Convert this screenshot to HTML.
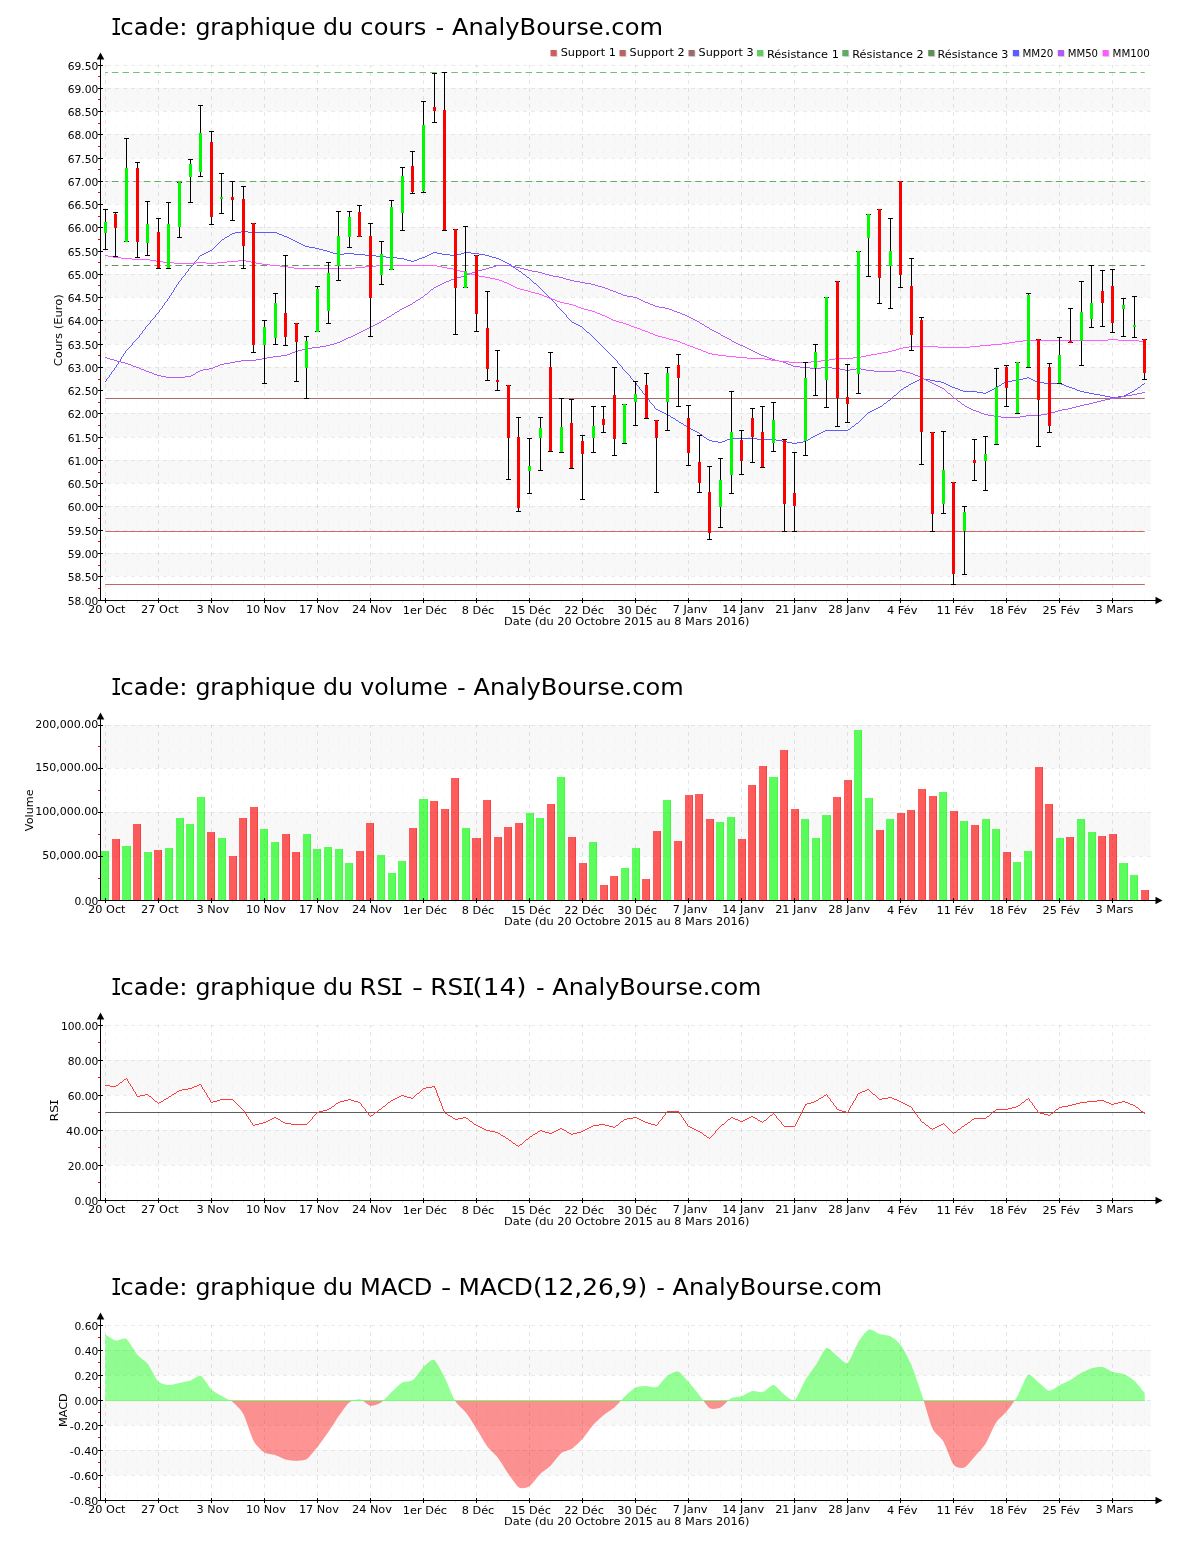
<!DOCTYPE html>
<html lang="fr"><head><meta charset="utf-8"><title>Icade: graphique du cours, du volume, du RSI - RSI(14) et du MACD - MACD(12,26,9) - AnalyBourse.com</title>
<style>html,body{margin:0;padding:0;background:#fff}svg{display:block}</style></head>
<body>
<svg width="1200" height="1550" viewBox="0 0 1200 1550" font-family="DejaVu Sans, Liberation Sans, sans-serif" fill="#000">
<rect width="1200" height="1550" fill="#fff"/>
<rect x="101" y="553" width="1049.7" height="23" fill="#f8f8f8"/>
<rect x="101" y="506" width="1049.7" height="24" fill="#f8f8f8"/>
<rect x="101" y="460" width="1049.7" height="23" fill="#f8f8f8"/>
<rect x="101" y="413" width="1049.7" height="24" fill="#f8f8f8"/>
<rect x="101" y="367" width="1049.7" height="23" fill="#f8f8f8"/>
<rect x="101" y="320" width="1049.7" height="24" fill="#f8f8f8"/>
<rect x="101" y="274" width="1049.7" height="23" fill="#f8f8f8"/>
<rect x="101" y="227" width="1049.7" height="24" fill="#f8f8f8"/>
<rect x="101" y="181" width="1049.7" height="23" fill="#f8f8f8"/>
<rect x="101" y="134" width="1049.7" height="24" fill="#f8f8f8"/>
<rect x="101" y="88" width="1049.7" height="23" fill="#f8f8f8"/>
<path d="M115.5 65V600 M126.5 65V600 M137.5 65V600 M147.5 65V600 M168.5 65V600 M179.5 65V600 M190.5 65V600 M200.5 65V600 M221.5 65V600 M232.5 65V600 M243.5 65V600 M253.5 65V600 M275.5 65V600 M285.5 65V600 M296.5 65V600 M306.5 65V600 M328.5 65V600 M338.5 65V600 M349.5 65V600 M359.5 65V600 M381.5 65V600 M391.5 65V600 M402.5 65V600 M412.5 65V600 M434.5 65V600 M444.5 65V600 M455.5 65V600 M465.5 65V600 M487.5 65V600 M497.5 65V600 M508.5 65V600 M518.5 65V600 M540.5 65V600 M550.5 65V600 M561.5 65V600 M571.5 65V600 M593.5 65V600 M603.5 65V600 M614.5 65V600 M624.5 65V600 M646.5 65V600 M656.5 65V600 M667.5 65V600 M678.5 65V600 M699.5 65V600 M709.5 65V600 M720.5 65V600 M731.5 65V600 M752.5 65V600 M762.5 65V600 M773.5 65V600 M784.5 65V600 M805.5 65V600 M815.5 65V600 M826.5 65V600 M837.5 65V600 M858.5 65V600 M868.5 65V600 M879.5 65V600 M890.5 65V600 M911.5 65V600 M921.5 65V600 M932.5 65V600 M943.5 65V600 M964.5 65V600 M974.5 65V600 M985.5 65V600 M996.5 65V600 M1017.5 65V600 M1028.5 65V600 M1038.5 65V600 M1049.5 65V600 M1070.5 65V600 M1081.5 65V600 M1091.5 65V600 M1102.5 65V600 M1123.5 65V600 M1134.5 65V600 M1144.5 65V600" stroke="#000" stroke-opacity="0.02" stroke-width="1" stroke-dasharray="6 6" stroke-dashoffset="1" fill="none"/>
<path d="M105.5 65V600 M158.5 65V600 M211.5 65V600 M264.5 65V600 M317.5 65V600 M370.5 65V600 M423.5 65V600 M476.5 65V600 M529.5 65V600 M582.5 65V600 M635.5 65V600 M688.5 65V600 M741.5 65V600 M794.5 65V600 M847.5 65V600 M900.5 65V600 M953.5 65V600 M1006.5 65V600 M1059.5 65V600 M1112.5 65V600" stroke="#000" stroke-opacity="0.098" stroke-width="1" stroke-dasharray="4 4" stroke-dashoffset="1" fill="none"/>
<path d="M101 65.5H1150.7 M101 88.5H1150.7 M101 111.5H1150.7 M101 134.5H1150.7 M101 158.5H1150.7 M101 181.5H1150.7 M101 204.5H1150.7 M101 227.5H1150.7 M101 251.5H1150.7 M101 274.5H1150.7 M101 297.5H1150.7 M101 320.5H1150.7 M101 344.5H1150.7 M101 367.5H1150.7 M101 390.5H1150.7 M101 413.5H1150.7 M101 437.5H1150.7 M101 460.5H1150.7 M101 483.5H1150.7 M101 506.5H1150.7 M101 530.5H1150.7 M101 553.5H1150.7 M101 576.5H1150.7" stroke="#000" stroke-opacity="0.078" stroke-width="1" stroke-dasharray="4 4" stroke-dashoffset="2" fill="none"/>
<text y="34.8" font-size="22.6"><tspan font-family="DejaVu Sans Mono, Liberation Mono, monospace" x="110.85" textLength="11.15" lengthAdjust="spacingAndGlyphs">I</tspan><tspan x="120.36" textLength="67.14" lengthAdjust="spacingAndGlyphs">cade:</tspan> <tspan x="195.40" textLength="157.53" lengthAdjust="spacingAndGlyphs">graphique du</tspan> <tspan x="360.37" textLength="65.88" lengthAdjust="spacingAndGlyphs">cours</tspan> <tspan x="435.59" textLength="227.38" lengthAdjust="spacingAndGlyphs">- AnalyBourse.com</tspan></text>
<path d="M105.25 398.5H1144.75" stroke="#a66c6c" stroke-width="1" fill="none"/>
<path d="M105.25 531.5H1144.75" stroke="#d26868" stroke-width="1" fill="none"/>
<path d="M105.25 584.5H1144.75" stroke="#c46666" stroke-width="1" fill="none"/>
<path d="M105.25 72.5H1144.75" stroke="#6cc56c" stroke-width="1" fill="none" stroke-dasharray="6.6 4.007" stroke-dashoffset="4"/>
<path d="M105.25 181.5H1144.75" stroke="#62ae62" stroke-width="1" fill="none" stroke-dasharray="6.6 4.007" stroke-dashoffset="4"/>
<path d="M105.25 265.5H1144.75" stroke="#5e985e" stroke-width="1" fill="none" stroke-dasharray="6.6 4.007" stroke-dashoffset="4"/>
<path d="M200 255.5h2M202 254.5h2M204 253.5h2M206 252.5h2M208 251.5h2M210 250.5h2M222 239.5h2M225 237.5h2M227 236.5h2M230 234.5h2M232 233.5h3M235 232.5h6M241 231.5h7M248 232.5h29M277 233.5h2M279 234.5h3M282 235.5h2M284 236.5h3M287 237.5h2M289 238.5h2M291 239.5h2M293 240.5h2M295 241.5h2M297 242.5h2M299 243.5h2M301 244.5h2M303 245.5h2M305 246.5h4M309 247.5h6M315 248.5h4M319 249.5h4M323 250.5h4M327 251.5h3M330 252.5h3M333 253.5h4M337 254.5h7M344 253.5h10M354 254.5h11M365 255.5h11M376 256.5h10M386 257.5h11M397 258.5h7M404 259.5h3M407 260.5h4M411 261.5h3M414 260.5h3M417 259.5h2M419 258.5h3M422 257.5h3M425 256.5h2M427 255.5h2M429 254.5h2M431 253.5h2M433 252.5h4M437 253.5h5M442 254.5h8M450 255.5h7M457 254.5h4M461 253.5h3M464 252.5h7M471 253.5h8M479 254.5h6M485 255.5h4M489 256.5h3M492 257.5h4M496 258.5h3M499 259.5h2M501 260.5h2M503 261.5h2M505 262.5h2M507 263.5h2M509 264.5h2M513 267.5h2M516 269.5h2M519 271.5h2M523 274.5h2M527 277.5h2M534 283.5h2M572 322.5h2M574 323.5h2M576 324.5h2M578 325.5h2M580 326.5h2M587 332.5h2M656 409.5h2M658 410.5h2M660 411.5h2M662 412.5h2M664 413.5h2M666 414.5h2M668 415.5h2M671 417.5h2M673 418.5h2M676 420.5h2M679 422.5h2M681 423.5h2M684 425.5h2M686 426.5h2M689 428.5h2M691 429.5h2M693 430.5h2M695 431.5h2M697 432.5h2M700 434.5h2M704 437.5h2M707 439.5h2M709 440.5h3M712 441.5h6M718 442.5h4M722 441.5h3M725 440.5h2M727 439.5h3M730 438.5h27M757 439.5h19M776 440.5h6M782 441.5h5M787 442.5h5M792 443.5h5M797 442.5h6M803 441.5h3M806 440.5h2M808 439.5h2M811 437.5h2M813 436.5h2M815 435.5h2M817 434.5h2M819 433.5h2M821 432.5h2M823 431.5h2M825 430.5h23M848 429.5h2M852 426.5h2M856 423.5h2M868 412.5h2M870 411.5h2M872 410.5h2M874 409.5h2M876 408.5h2M878 407.5h2M880 406.5h2M884 403.5h2M888 400.5h2M894 395.5h2M901 389.5h2M904 387.5h2M906 386.5h2M909 384.5h2M911 383.5h2M913 382.5h2M915 381.5h2M917 380.5h2M919 379.5h2M921 378.5h3M924 379.5h6M930 380.5h5M935 381.5h6M941 382.5h3M944 383.5h2M946 384.5h2M948 385.5h2M950 386.5h2M952 387.5h3M955 388.5h3M958 389.5h2M960 390.5h3M963 391.5h14M977 392.5h6M983 393.5h3M986 392.5h2M988 391.5h2M990 390.5h2M992 389.5h2M994 388.5h2M997 386.5h2M999 385.5h2M1002 383.5h2M1004 382.5h2M1006 381.5h6M1012 380.5h7M1019 379.5h4M1023 378.5h4M1027 377.5h2M1029 378.5h2M1031 379.5h2M1033 380.5h2M1035 381.5h2M1037 382.5h7M1044 383.5h17M1061 384.5h3M1064 385.5h2M1066 386.5h3M1069 387.5h3M1072 388.5h3M1075 389.5h2M1077 390.5h3M1080 391.5h4M1084 392.5h5M1089 393.5h5M1094 394.5h6M1100 395.5h5M1105 396.5h5M1110 397.5h8M1118 396.5h6M1124 395.5h2M1126 394.5h2M1128 393.5h2M1130 392.5h2M1132 391.5h2M1135 389.5h2M1138 387.5h2M1142 384.5h2M105.5 381v1M106.5 379v2M107.5 378v1M108.5 377v1M109.5 375v2M110.5 374v1M111.5 372v2M112.5 371v1M113.5 370v1M114.5 368v2M115.5 367v1M116.5 365v2M117.5 364v1M118.5 362v2M119.5 361v1M120.5 359v2M121.5 357v2M122.5 356v1M123.5 354v2M124.5 353v1M125.5 351v2M126.5 350v1M127.5 349v1M128.5 348v1M129.5 347v1M130.5 346v1M131.5 345v1M132.5 343v2M133.5 342v1M134.5 341v1M135.5 340v1M136.5 339v1M137.5 338v1M138.5 337v1M139.5 335v2M140.5 334v1M141.5 333v1M142.5 331v2M143.5 330v1M144.5 329v1M145.5 327v2M146.5 326v1M147.5 325v1M148.5 324v1M149.5 323v1M150.5 321v2M151.5 320v1M152.5 319v1M153.5 318v1M154.5 317v1M155.5 315v2M156.5 314v1M157.5 313v1M158.5 312v1M159.5 310v2M160.5 309v1M161.5 308v1M162.5 306v2M163.5 305v1M164.5 303v2M165.5 302v1M166.5 301v1M167.5 299v2M168.5 298v1M169.5 296v2M170.5 295v1M171.5 293v2M172.5 292v1M173.5 290v2M174.5 288v2M175.5 287v1M176.5 285v2M177.5 284v1M178.5 282v2M179.5 281v1M180.5 280v1M181.5 278v2M182.5 277v1M183.5 276v1M184.5 275v1M185.5 273v2M186.5 272v1M187.5 271v1M188.5 269v2M189.5 268v1M190.5 267v1M191.5 266v1M192.5 265v1M193.5 263v2M194.5 262v1M195.5 261v1M196.5 260v1M197.5 259v1M198.5 257v2M199.5 256v1M212.5 249v1M213.5 248v1M214.5 247v1M215.5 246v1M216.5 245v1M217.5 244v1M218.5 243v1M219.5 242v1M220.5 241v1M221.5 240v1M224.5 238v1M229.5 235v1M511.5 265v1M512.5 266v1M515.5 268v1M518.5 270v1M521.5 272v1M522.5 273v1M525.5 275v1M526.5 276v1M529.5 278v1M530.5 279v1M531.5 280v1M532.5 281v1M533.5 282v1M536.5 284v1M537.5 285v1M538.5 286v1M539.5 287v1M540.5 288v1M541.5 289v1M542.5 290v1M543.5 291v1M544.5 292v1M545.5 293v1M546.5 294v1M547.5 295v1M548.5 296v1M549.5 297v1M550.5 298v1M551.5 299v1M552.5 300v1M553.5 301v1M554.5 302v1M555.5 303v1M556.5 304v2M557.5 306v1M558.5 307v1M559.5 308v1M560.5 309v1M561.5 310v1M562.5 311v1M563.5 312v1M564.5 313v1M565.5 314v1M566.5 315v2M567.5 317v1M568.5 318v1M569.5 319v1M570.5 320v1M571.5 321v1M582.5 327v1M583.5 328v1M584.5 329v1M585.5 330v1M586.5 331v1M589.5 333v1M590.5 334v1M591.5 335v1M592.5 336v1M593.5 337v1M594.5 338v1M595.5 339v1M596.5 340v1M597.5 341v1M598.5 342v1M599.5 343v1M600.5 344v1M601.5 345v1M602.5 346v1M603.5 347v1M604.5 348v1M605.5 349v1M606.5 350v1M607.5 351v1M608.5 352v1M609.5 353v1M610.5 354v1M611.5 355v1M612.5 356v1M613.5 357v1M614.5 358v1M615.5 359v1M616.5 360v1M617.5 361v2M618.5 363v1M619.5 364v1M620.5 365v1M621.5 366v1M622.5 367v2M623.5 369v1M624.5 370v1M625.5 371v1M626.5 372v1M627.5 373v1M628.5 374v1M629.5 375v1M630.5 376v2M631.5 378v1M632.5 379v1M633.5 380v1M634.5 381v1M635.5 382v1M636.5 383v2M637.5 385v1M638.5 386v1M639.5 387v2M640.5 389v1M641.5 390v1M642.5 391v2M643.5 393v1M644.5 394v1M645.5 395v2M646.5 397v1M647.5 398v1M648.5 399v1M649.5 400v2M650.5 402v1M651.5 403v1M652.5 404v1M653.5 405v1M654.5 406v2M655.5 408v1M670.5 416v1M675.5 419v1M678.5 421v1M683.5 424v1M688.5 427v1M699.5 433v1M702.5 435v1M703.5 436v1M706.5 438v1M810.5 438v1M850.5 428v1M851.5 427v1M854.5 425v1M855.5 424v1M858.5 422v1M859.5 421v1M860.5 420v1M861.5 419v1M862.5 418v1M863.5 417v1M864.5 416v1M865.5 415v1M866.5 414v1M867.5 413v1M882.5 405v1M883.5 404v1M886.5 402v1M887.5 401v1M890.5 399v1M891.5 398v1M892.5 397v1M893.5 396v1M896.5 394v1M897.5 393v1M898.5 392v1M899.5 391v1M900.5 390v1M903.5 388v1M908.5 385v1M996.5 387v1M1001.5 384v1M1134.5 390v1M1137.5 388v1M1140.5 386v1M1141.5 385v1M1144.5 383v1" stroke="#5c5cff" stroke-width="1" fill="none"/>
<path d="M105 357.5h2M107 358.5h3M110 359.5h4M114 360.5h3M117 361.5h4M121 362.5h4M125 363.5h3M128 364.5h3M131 365.5h2M133 366.5h3M136 367.5h3M139 368.5h2M141 369.5h3M144 370.5h2M146 371.5h3M149 372.5h3M152 373.5h2M154 374.5h3M157 375.5h4M161 376.5h5M166 377.5h19M185 376.5h6M191 375.5h2M193 374.5h2M196 372.5h2M198 371.5h2M200 370.5h3M203 369.5h6M209 368.5h4M213 367.5h2M215 366.5h3M218 365.5h2M220 364.5h4M224 363.5h6M230 362.5h5M235 361.5h6M241 360.5h15M256 359.5h6M262 358.5h5M267 357.5h6M273 356.5h8M281 355.5h6M287 354.5h3M290 353.5h2M292 352.5h3M295 351.5h3M298 350.5h4M302 349.5h3M305 348.5h7M312 347.5h8M320 346.5h6M326 345.5h4M330 344.5h4M334 343.5h3M337 342.5h3M340 341.5h2M342 340.5h2M344 339.5h2M346 338.5h2M348 337.5h3M351 336.5h2M353 335.5h2M355 334.5h2M357 333.5h2M359 332.5h2M361 331.5h2M363 330.5h2M365 329.5h2M367 328.5h2M369 327.5h2M371 326.5h2M373 325.5h2M375 324.5h2M377 323.5h2M379 322.5h2M382 320.5h2M384 319.5h2M387 317.5h2M389 316.5h2M392 314.5h2M395 312.5h2M397 311.5h2M400 309.5h2M402 308.5h2M404 307.5h2M406 306.5h2M408 305.5h2M410 304.5h2M413 302.5h2M416 300.5h2M418 299.5h2M421 297.5h2M425 294.5h2M431 289.5h2M434 287.5h2M436 286.5h2M438 285.5h2M440 284.5h2M442 283.5h2M444 282.5h2M446 281.5h3M449 280.5h2M451 279.5h3M454 278.5h3M457 277.5h4M461 276.5h3M464 275.5h3M467 274.5h3M470 273.5h2M472 272.5h3M475 271.5h3M478 270.5h4M482 269.5h4M486 268.5h3M489 267.5h4M493 266.5h3M496 265.5h15M511 266.5h5M516 267.5h4M520 268.5h4M524 269.5h4M528 270.5h4M532 271.5h6M538 272.5h4M542 273.5h3M545 274.5h4M549 275.5h4M553 276.5h6M559 277.5h4M563 278.5h3M566 279.5h4M570 280.5h4M574 281.5h6M580 282.5h5M585 283.5h6M591 284.5h4M595 285.5h3M598 286.5h4M602 287.5h3M605 288.5h3M608 289.5h2M610 290.5h3M613 291.5h3M616 292.5h2M618 293.5h3M621 294.5h2M623 295.5h4M627 296.5h6M633 297.5h4M637 298.5h2M639 299.5h2M641 300.5h2M643 301.5h2M645 302.5h3M648 303.5h2M650 304.5h3M653 305.5h2M655 306.5h4M659 307.5h6M665 308.5h4M669 309.5h3M672 310.5h2M674 311.5h3M677 312.5h3M680 313.5h2M682 314.5h3M685 315.5h2M687 316.5h2M689 317.5h2M691 318.5h2M693 319.5h2M695 320.5h2M697 321.5h2M700 323.5h2M702 324.5h2M705 326.5h2M707 327.5h2M710 329.5h2M712 330.5h2M714 331.5h2M716 332.5h2M718 333.5h2M721 335.5h2M723 336.5h2M725 337.5h2M727 338.5h2M729 339.5h2M732 341.5h2M734 342.5h2M736 343.5h2M738 344.5h2M740 345.5h3M743 346.5h2M745 347.5h2M747 348.5h2M749 349.5h2M751 350.5h2M753 351.5h2M755 352.5h2M757 353.5h2M759 354.5h2M761 355.5h3M764 356.5h3M767 357.5h2M769 358.5h3M772 359.5h3M775 360.5h4M779 361.5h4M783 362.5h3M786 363.5h2M788 364.5h3M791 365.5h2M793 366.5h7M800 367.5h10M810 368.5h11M821 367.5h11M832 368.5h8M840 369.5h5M845 370.5h5M850 369.5h6M856 368.5h5M861 369.5h5M866 370.5h8M874 371.5h22M896 370.5h6M902 371.5h4M906 372.5h4M910 373.5h3M913 374.5h2M915 375.5h3M918 376.5h2M920 377.5h2M922 378.5h2M924 379.5h2M926 380.5h2M928 381.5h2M930 382.5h2M932 383.5h2M934 384.5h2M936 385.5h2M938 386.5h2M940 387.5h2M942 388.5h2M948 393.5h2M954 398.5h2M958 401.5h2M962 404.5h2M965 406.5h2M967 407.5h2M969 408.5h2M971 409.5h2M973 410.5h3M976 411.5h3M979 412.5h2M981 413.5h3M984 414.5h4M988 415.5h6M994 416.5h7M1001 417.5h19M1020 416.5h6M1026 415.5h15M1041 414.5h6M1047 413.5h4M1051 412.5h4M1055 411.5h3M1058 410.5h4M1062 409.5h6M1068 408.5h4M1072 407.5h4M1076 406.5h4M1080 405.5h4M1084 404.5h5M1089 403.5h4M1093 402.5h4M1097 401.5h4M1101 400.5h4M1105 399.5h5M1110 398.5h5M1115 397.5h6M1121 396.5h5M1126 395.5h6M1132 394.5h5M1137 393.5h5M1142 392.5h3M195.5 373v1M381.5 321v1M386.5 318v1M391.5 315v1M394.5 313v1M399.5 310v1M412.5 303v1M415.5 301v1M420.5 298v1M423.5 296v1M424.5 295v1M427.5 293v1M428.5 292v1M429.5 291v1M430.5 290v1M433.5 288v1M699.5 322v1M704.5 325v1M709.5 328v1M720.5 334v1M731.5 340v1M944.5 389v1M945.5 390v1M946.5 391v1M947.5 392v1M950.5 394v1M951.5 395v1M952.5 396v1M953.5 397v1M956.5 399v1M957.5 400v1M960.5 402v1M961.5 403v1M964.5 405v1" stroke="#b25cf5" stroke-width="1" fill="none"/>
<path d="M105 255.5h3M108 256.5h5M113 257.5h8M121 258.5h11M132 259.5h18M150 260.5h6M156 261.5h7M163 262.5h11M174 263.5h22M196 262.5h10M206 263.5h11M217 262.5h10M227 261.5h11M238 260.5h8M246 261.5h5M251 262.5h5M256 263.5h6M262 264.5h8M270 265.5h10M280 266.5h8M288 267.5h6M294 268.5h61M355 267.5h10M365 266.5h11M376 265.5h61M437 266.5h5M442 267.5h5M447 268.5h6M453 269.5h4M457 270.5h3M460 271.5h4M464 272.5h3M467 273.5h4M471 274.5h4M475 275.5h4M479 276.5h6M485 277.5h5M490 278.5h5M495 279.5h4M499 280.5h3M502 281.5h2M504 282.5h3M507 283.5h2M509 284.5h2M511 285.5h2M513 286.5h2M515 287.5h2M517 288.5h3M520 289.5h4M524 290.5h4M528 291.5h3M531 292.5h4M535 293.5h4M539 294.5h3M542 295.5h2M544 296.5h3M547 297.5h2M549 298.5h3M552 299.5h3M555 300.5h2M557 301.5h3M560 302.5h4M564 303.5h5M569 304.5h4M573 305.5h3M576 306.5h2M578 307.5h3M581 308.5h3M584 309.5h4M588 310.5h4M592 311.5h3M595 312.5h2M597 313.5h3M600 314.5h2M602 315.5h3M605 316.5h2M607 317.5h2M609 318.5h2M611 319.5h2M613 320.5h3M616 321.5h3M619 322.5h4M623 323.5h3M626 324.5h3M629 325.5h2M631 326.5h3M634 327.5h3M637 328.5h3M640 329.5h2M642 330.5h3M645 331.5h3M648 332.5h2M650 333.5h3M653 334.5h2M655 335.5h3M658 336.5h4M662 337.5h4M666 338.5h3M669 339.5h4M673 340.5h4M677 341.5h3M680 342.5h2M682 343.5h3M685 344.5h2M687 345.5h3M690 346.5h3M693 347.5h2M695 348.5h3M698 349.5h3M701 350.5h2M703 351.5h3M706 352.5h2M708 353.5h4M712 354.5h6M718 355.5h8M726 356.5h10M736 357.5h11M747 358.5h18M765 359.5h6M771 360.5h8M779 361.5h10M789 362.5h22M811 361.5h10M821 360.5h8M829 359.5h6M835 358.5h18M853 357.5h8M861 356.5h5M866 355.5h5M871 354.5h6M877 353.5h5M882 352.5h6M888 351.5h4M892 350.5h4M896 349.5h3M899 348.5h4M903 347.5h6M909 346.5h29M938 347.5h32M970 346.5h10M980 345.5h11M991 344.5h11M1002 343.5h7M1009 342.5h6M1015 341.5h8M1023 340.5h85M1108 339.5h10M1118 340.5h21M1139 341.5h6" stroke="#ff5cff" stroke-width="1" fill="none"/>
<path d="M105.5 209V250 M115.5 212V257 M126.5 138V242 M137.5 162V258 M147.5 201V256 M158.5 218V269 M168.5 202V269 M179.5 182V238 M190.5 159V203 M200.5 105V177 M211.5 131V225 M221.5 173V214 M232.5 181V221 M243.5 186V269 M253.5 223V353 M264.5 320V384 M275.5 293V345 M285.5 255V346 M296.5 323V382 M306.5 336V399 M317.5 286V332 M328.5 262V324 M338.5 211V281 M349.5 211V248 M359.5 205V237 M370.5 223V337 M381.5 241V285 M391.5 200V270 M402.5 167V231 M412.5 151V194 M423.5 101V193 M434.5 73V123 M444.5 72V231 M455.5 229V335 M465.5 226V288 M476.5 255V332 M487.5 291V381 M497.5 350V391 M508.5 385V480 M518.5 417V512 M529.5 438V494 M540.5 417V471 M550.5 352V452 M561.5 398V453 M571.5 399V469 M582.5 435V500 M593.5 406V453 M603.5 406V433 M614.5 367V456 M624.5 404V444 M635.5 381V426 M646.5 373V419 M656.5 420V493 M667.5 367V431 M678.5 354V407 M688.5 405V466 M699.5 435V493 M709.5 466V540 M720.5 458V528 M731.5 391V494 M741.5 430V475 M752.5 408V463 M762.5 406V468 M773.5 402V452 M784.5 439V532 M794.5 452V532 M805.5 362V456 M815.5 344V396 M826.5 297V408 M837.5 281V427 M847.5 364V423 M858.5 251V394 M868.5 214V277 M879.5 209V304 M890.5 218V309 M900.5 181V288 M911.5 258V351 M921.5 317V465 M932.5 432V532 M943.5 431V514 M953.5 482V585 M964.5 506V575 M974.5 439V481 M985.5 436V491 M996.5 368V445 M1006.5 365V407 M1017.5 362V414 M1028.5 293V368 M1038.5 339V447 M1049.5 363V433 M1059.5 337V384 M1070.5 308V343 M1081.5 281V366 M1091.5 265V328 M1102.5 270V327 M1112.5 269V333 M1123.5 298V337 M1134.5 296V338 M1144.5 339V380 M103 209.5H108M103 249.5H108 M113 212.5H118M113 256.5H118 M124 138.5H129M124 241.5H129 M135 162.5H140M135 257.5H140 M145 201.5H150M145 255.5H150 M156 218.5H161M156 268.5H161 M166 202.5H171M166 268.5H171 M177 182.5H182M177 237.5H182 M188 159.5H193M188 202.5H193 M198 105.5H203M198 176.5H203 M209 131.5H214M209 224.5H214 M219 173.5H224M219 213.5H224 M230 181.5H235M230 220.5H235 M241 186.5H246M241 268.5H246 M251 223.5H256M251 352.5H256 M262 320.5H267M262 383.5H267 M273 293.5H278M273 344.5H278 M283 255.5H288M283 345.5H288 M294 323.5H299M294 381.5H299 M304 336.5H309M304 398.5H309 M315 286.5H320M315 331.5H320 M326 262.5H331M326 323.5H331 M336 211.5H341M336 280.5H341 M347 211.5H352M347 247.5H352 M357 205.5H362M357 236.5H362 M368 223.5H373M368 336.5H373 M379 241.5H384M379 284.5H384 M389 200.5H394M389 269.5H394 M400 167.5H405M400 230.5H405 M410 151.5H415M410 193.5H415 M421 101.5H426M421 192.5H426 M432 73.5H437M432 122.5H437 M442 72.5H447M442 230.5H447 M453 229.5H458M453 334.5H458 M463 226.5H468M463 287.5H468 M474 255.5H479M474 331.5H479 M485 291.5H490M485 380.5H490 M495 350.5H500M495 390.5H500 M506 385.5H511M506 479.5H511 M516 417.5H521M516 511.5H521 M527 438.5H532M527 493.5H532 M538 417.5H543M538 470.5H543 M548 352.5H553M548 451.5H553 M559 398.5H564M559 452.5H564 M569 399.5H574M569 468.5H574 M580 435.5H585M580 499.5H585 M591 406.5H596M591 452.5H596 M601 406.5H606M601 432.5H606 M612 367.5H617M612 455.5H617 M622 404.5H627M622 443.5H627 M633 381.5H638M633 425.5H638 M644 373.5H649M644 418.5H649 M654 420.5H659M654 492.5H659 M665 367.5H670M665 430.5H670 M676 354.5H681M676 406.5H681 M686 405.5H691M686 465.5H691 M697 435.5H702M697 492.5H702 M707 466.5H712M707 539.5H712 M718 458.5H723M718 527.5H723 M729 391.5H734M729 493.5H734 M739 430.5H744M739 474.5H744 M750 408.5H755M750 462.5H755 M760 406.5H765M760 467.5H765 M771 402.5H776M771 451.5H776 M782 439.5H787M782 531.5H787 M792 452.5H797M792 531.5H797 M803 362.5H808M803 455.5H808 M813 344.5H818M813 395.5H818 M824 297.5H829M824 407.5H829 M835 281.5H840M835 426.5H840 M845 364.5H850M845 422.5H850 M856 251.5H861M856 393.5H861 M866 214.5H871M866 276.5H871 M877 209.5H882M877 303.5H882 M888 218.5H893M888 308.5H893 M898 181.5H903M898 287.5H903 M909 258.5H914M909 350.5H914 M919 317.5H924M919 464.5H924 M930 432.5H935M930 531.5H935 M941 431.5H946M941 513.5H946 M951 482.5H956M951 584.5H956 M962 506.5H967M962 574.5H967 M972 439.5H977M972 480.5H977 M983 436.5H988M983 490.5H988 M994 368.5H999M994 444.5H999 M1004 365.5H1009M1004 406.5H1009 M1015 362.5H1020M1015 413.5H1020 M1026 293.5H1031M1026 367.5H1031 M1036 339.5H1041M1036 446.5H1041 M1047 363.5H1052M1047 432.5H1052 M1057 337.5H1062M1057 383.5H1062 M1068 308.5H1073M1068 342.5H1073 M1079 281.5H1084M1079 365.5H1084 M1089 265.5H1094M1089 327.5H1094 M1100 270.5H1105M1100 326.5H1105 M1110 269.5H1115M1110 332.5H1115 M1121 298.5H1126M1121 336.5H1126 M1132 296.5H1137M1132 337.5H1137 M1142 339.5H1147M1142 379.5H1147" stroke="#000" stroke-width="1" fill="none"/>
<path d="M104 222H107V233H104Z M125 168H128V242H125Z M146 224H149V243H146Z M167 224H170V268H167Z M178 182H181V227H178Z M189 164H192V177H189Z M199 133H202V172H199Z M220 197H223V199H220Z M263 327H266V345H263Z M274 303H277V338H274Z M305 341H308V368H305Z M316 289H319V332H316Z M327 273H330V311H327Z M337 236H340V266H337Z M348 217H351V237H348Z M380 254H383V275H380Z M390 207H393V270H390Z M401 176H404V213H401Z M422 125H425V191H422Z M464 271H467V288H464Z M528 466H531V471H528Z M539 428H542V438H539Z M560 427H563V452H560Z M592 426H595V438H592Z M623 404H626V443H623Z M634 394H637V402H634Z M666 373H669V402H666Z M719 480H722V507H719Z M730 432H733V475H730Z M772 420H775V443H772Z M804 378H807V441H804Z M814 352H817V368H814Z M825 297H828V380H825Z M857 251H860V374H857Z M867 214H870V238H867Z M889 251H892V266H889Z M942 470H945V504H942Z M963 512H966V531H963Z M984 454H987V461H984Z M995 387H998V444H995Z M1016 362H1019V413H1016Z M1027 295H1030V367H1027Z M1058 355H1061V383H1058Z M1080 312H1083V341H1080Z M1090 303H1093V319H1090Z M1122 305H1125V309H1122Z M1133 325H1136V327H1133Z" fill="#00fa00"/>
<path d="M114 214H117V228H114Z M136 168H139V242H136Z M157 232H160V268H157Z M210 142H213V217H210Z M231 197H234V200H231Z M242 199H245V246H242Z M252 223H255V345H252Z M284 313H287V337H284Z M295 323H298V342H295Z M358 212H361V237H358Z M369 236H372V298H369Z M411 166H414V192H411Z M433 107H436V111H433Z M443 110H446V230H443Z M454 229H457V288H454Z M475 255H478V314H475Z M486 328H489V369H486Z M496 380H499V382H496Z M507 385H510V438H507Z M517 437H520V508H517Z M549 367H552V451H549Z M570 423H573V468H570Z M581 441H584V454H581Z M602 419H605V425H602Z M613 395H616V439H613Z M645 385H648V418H645Z M655 420H658V438H655Z M677 365H680V378H677Z M687 418H690V453H687Z M698 462H701V483H698Z M708 492H711V533H708Z M740 440H743V461H740Z M751 418H754V437H751Z M761 432H764V467H761Z M783 440H786V504H783Z M793 493H796V506H793Z M836 281H839V398H836Z M846 397H849V404H846Z M878 209H881V278H878Z M899 181H902V275H899Z M910 286H913V335H910Z M920 320H923V432H920Z M931 432H934V514H931Z M952 482H955V574H952Z M973 460H976V463H973Z M1005 367H1008V388H1005Z M1037 339H1040V400H1037Z M1048 367H1051V426H1048Z M1069 341H1072V343H1069Z M1101 291H1104V303H1101Z M1111 286H1114V323H1111Z M1143 339H1146V373H1143Z" fill="#ff0000"/>
<path d="M100.5 59V600.5" stroke="#000" stroke-width="1" fill="none"/>
<path d="M100.5 52.6L104.3 59.6H96.7Z" fill="#000"/>
<path d="M100 600.5H1156" stroke="#000" stroke-width="1" fill="none"/>
<path d="M1162.5 600.5L1155.5 604.2V596.8Z" fill="#000"/>
<text x="67.75" y="69.60" font-size="10.3" textLength="30.65" lengthAdjust="spacingAndGlyphs" >69.50</text>
<text x="67.75" y="92.60" font-size="10.3" textLength="30.65" lengthAdjust="spacingAndGlyphs" >69.00</text>
<text x="67.75" y="115.60" font-size="10.3" textLength="30.65" lengthAdjust="spacingAndGlyphs" >68.50</text>
<text x="67.75" y="138.60" font-size="10.3" textLength="30.65" lengthAdjust="spacingAndGlyphs" >68.00</text>
<text x="67.75" y="162.60" font-size="10.3" textLength="30.65" lengthAdjust="spacingAndGlyphs" >67.50</text>
<text x="67.75" y="185.60" font-size="10.3" textLength="30.65" lengthAdjust="spacingAndGlyphs" >67.00</text>
<text x="67.75" y="208.60" font-size="10.3" textLength="30.65" lengthAdjust="spacingAndGlyphs" >66.50</text>
<text x="67.75" y="231.60" font-size="10.3" textLength="30.65" lengthAdjust="spacingAndGlyphs" >66.00</text>
<text x="67.75" y="255.60" font-size="10.3" textLength="30.65" lengthAdjust="spacingAndGlyphs" >65.50</text>
<text x="67.75" y="278.60" font-size="10.3" textLength="30.65" lengthAdjust="spacingAndGlyphs" >65.00</text>
<text x="67.75" y="301.60" font-size="10.3" textLength="30.65" lengthAdjust="spacingAndGlyphs" >64.50</text>
<text x="67.75" y="324.60" font-size="10.3" textLength="30.65" lengthAdjust="spacingAndGlyphs" >64.00</text>
<text x="67.75" y="348.60" font-size="10.3" textLength="30.65" lengthAdjust="spacingAndGlyphs" >63.50</text>
<text x="67.75" y="371.60" font-size="10.3" textLength="30.65" lengthAdjust="spacingAndGlyphs" >63.00</text>
<text x="67.75" y="394.60" font-size="10.3" textLength="30.65" lengthAdjust="spacingAndGlyphs" >62.50</text>
<text x="67.75" y="417.60" font-size="10.3" textLength="30.65" lengthAdjust="spacingAndGlyphs" >62.00</text>
<text x="67.75" y="441.60" font-size="10.3" textLength="30.65" lengthAdjust="spacingAndGlyphs" >61.50</text>
<text x="67.75" y="464.60" font-size="10.3" textLength="30.65" lengthAdjust="spacingAndGlyphs" >61.00</text>
<text x="67.75" y="487.60" font-size="10.3" textLength="30.65" lengthAdjust="spacingAndGlyphs" >60.50</text>
<text x="67.75" y="510.60" font-size="10.3" textLength="30.65" lengthAdjust="spacingAndGlyphs" >60.00</text>
<text x="67.75" y="534.60" font-size="10.3" textLength="30.65" lengthAdjust="spacingAndGlyphs" >59.50</text>
<text x="67.75" y="557.60" font-size="10.3" textLength="30.65" lengthAdjust="spacingAndGlyphs" >59.00</text>
<text x="67.75" y="580.60" font-size="10.3" textLength="30.65" lengthAdjust="spacingAndGlyphs" >58.50</text>
<text x="67.75" y="604.60" font-size="10.3" textLength="30.65" lengthAdjust="spacingAndGlyphs" >58.00</text>
<path d="M98 65.5H103 M98 88.5H103 M98 111.5H103 M98 134.5H103 M98 158.5H103 M98 181.5H103 M98 204.5H103 M98 227.5H103 M98 251.5H103 M98 274.5H103 M98 297.5H103 M98 320.5H103 M98 344.5H103 M98 367.5H103 M98 390.5H103 M98 413.5H103 M98 437.5H103 M98 460.5H103 M98 483.5H103 M98 506.5H103 M98 530.5H103 M98 553.5H103 M98 576.5H103 M98 600.5H103" stroke="#000" stroke-width="1" fill="none"/>
<path d="M98 76.5H100 M98 99.5H100 M98 123.5H100 M98 146.5H100 M98 169.5H100 M98 192.5H100 M98 216.5H100 M98 239.5H100 M98 262.5H100 M98 285.5H100 M98 309.5H100 M98 332.5H100 M98 355.5H100 M98 379.5H100 M98 402.5H100 M98 425.5H100 M98 448.5H100 M98 472.5H100 M98 495.5H100 M98 518.5H100 M98 541.5H100 M98 565.5H100 M98 588.5H100" stroke="#ff0000" stroke-width="1" fill="none"/>
<path d="M115.5 601V603 M126.5 601V603 M137.5 601V603 M147.5 601V603 M168.5 601V603 M179.5 601V603 M190.5 601V603 M200.5 601V603 M221.5 601V603 M232.5 601V603 M243.5 601V603 M253.5 601V603 M275.5 601V603 M285.5 601V603 M296.5 601V603 M306.5 601V603 M328.5 601V603 M338.5 601V603 M349.5 601V603 M359.5 601V603 M381.5 601V603 M391.5 601V603 M402.5 601V603 M412.5 601V603 M434.5 601V603 M444.5 601V603 M455.5 601V603 M465.5 601V603 M487.5 601V603 M497.5 601V603 M508.5 601V603 M518.5 601V603 M540.5 601V603 M550.5 601V603 M561.5 601V603 M571.5 601V603 M593.5 601V603 M603.5 601V603 M614.5 601V603 M624.5 601V603 M646.5 601V603 M656.5 601V603 M667.5 601V603 M678.5 601V603 M699.5 601V603 M709.5 601V603 M720.5 601V603 M731.5 601V603 M752.5 601V603 M762.5 601V603 M773.5 601V603 M784.5 601V603 M805.5 601V603 M815.5 601V603 M826.5 601V603 M837.5 601V603 M858.5 601V603 M868.5 601V603 M879.5 601V603 M890.5 601V603 M911.5 601V603 M921.5 601V603 M932.5 601V603 M943.5 601V603 M964.5 601V603 M974.5 601V603 M985.5 601V603 M996.5 601V603 M1017.5 601V603 M1028.5 601V603 M1038.5 601V603 M1049.5 601V603 M1070.5 601V603 M1081.5 601V603 M1091.5 601V603 M1102.5 601V603 M1123.5 601V603 M1134.5 601V603 M1144.5 601V603" stroke="#e8e8e8" stroke-width="1" fill="none"/>
<path d="M105.5 598V603 M158.5 598V603 M211.5 598V603 M264.5 598V603 M317.5 598V603 M370.5 598V603 M423.5 598V603 M476.5 598V603 M529.5 598V603 M582.5 598V603 M635.5 598V603 M688.5 598V603 M741.5 598V603 M794.5 598V603 M847.5 598V603 M900.5 598V603 M953.5 598V603 M1006.5 598V603 M1059.5 598V603 M1112.5 598V603" stroke="#000" stroke-width="1" fill="none"/>
<text x="88.07" y="612.80" font-size="10.5" textLength="37.47" lengthAdjust="spacingAndGlyphs" >20 Oct</text>
<text x="141.10" y="612.80" font-size="10.5" textLength="37.47" lengthAdjust="spacingAndGlyphs" >27 Oct</text>
<text x="196.46" y="612.80" font-size="10.5" textLength="32.80" lengthAdjust="spacingAndGlyphs" >3 Nov</text>
<text x="245.90" y="612.80" font-size="10.5" textLength="39.98" lengthAdjust="spacingAndGlyphs" >10 Nov</text>
<text x="298.93" y="612.80" font-size="10.5" textLength="39.98" lengthAdjust="spacingAndGlyphs" >17 Nov</text>
<text x="351.96" y="612.80" font-size="10.5" textLength="39.98" lengthAdjust="spacingAndGlyphs" >24 Nov</text>
<text x="402.89" y="614.10" font-size="10.5" textLength="44.20" lengthAdjust="spacingAndGlyphs" >1er Déc</text>
<text x="461.71" y="614.10" font-size="10.5" textLength="32.61" lengthAdjust="spacingAndGlyphs" >8 Déc</text>
<text x="511.15" y="614.10" font-size="10.5" textLength="39.79" lengthAdjust="spacingAndGlyphs" >15 Déc</text>
<text x="564.18" y="614.10" font-size="10.5" textLength="39.79" lengthAdjust="spacingAndGlyphs" >22 Déc</text>
<text x="617.21" y="614.10" font-size="10.5" textLength="39.79" lengthAdjust="spacingAndGlyphs" >30 Déc</text>
<text x="672.71" y="612.80" font-size="10.5" textLength="34.85" lengthAdjust="spacingAndGlyphs" >7 Janv</text>
<text x="722.15" y="612.80" font-size="10.5" textLength="42.03" lengthAdjust="spacingAndGlyphs" >14 Janv</text>
<text x="775.18" y="612.80" font-size="10.5" textLength="42.03" lengthAdjust="spacingAndGlyphs" >21 Janv</text>
<text x="828.21" y="612.80" font-size="10.5" textLength="42.03" lengthAdjust="spacingAndGlyphs" >28 Janv</text>
<text x="887.12" y="614.10" font-size="10.5" textLength="30.27" lengthAdjust="spacingAndGlyphs" >4 Fév</text>
<text x="936.56" y="614.10" font-size="10.5" textLength="37.45" lengthAdjust="spacingAndGlyphs" >11 Fév</text>
<text x="989.59" y="614.10" font-size="10.5" textLength="37.45" lengthAdjust="spacingAndGlyphs" >18 Fév</text>
<text x="1042.62" y="614.10" font-size="10.5" textLength="37.45" lengthAdjust="spacingAndGlyphs" >25 Fév</text>
<text x="1095.41" y="612.80" font-size="10.5" textLength="37.95" lengthAdjust="spacingAndGlyphs" >3 Mars</text>
<text x="504.05" y="624.70" font-size="10.5" textLength="245.30" lengthAdjust="spacingAndGlyphs" >Date (du 20 Octobre 2015 au 8 Mars 2016)</text>
<text transform="translate(62 366.2) rotate(-90)" font-size="11.2" textLength="72" lengthAdjust="spacingAndGlyphs">Cours (Euro)</text>
<rect x="551.5" y="51" width="6.2" height="6.2" fill="#000" fill-opacity="0.12"/>
<rect x="550.5" y="50" width="6.2" height="6.2" fill="#cd5f5f"/>
<text x="560.70" y="56.00" font-size="10.5" textLength="55.20" lengthAdjust="spacingAndGlyphs" >Support 1</text>
<rect x="620.5" y="51" width="6.2" height="6.2" fill="#000" fill-opacity="0.12"/>
<rect x="619.5" y="50" width="6.2" height="6.2" fill="#b86464"/>
<text x="629.50" y="56.00" font-size="10.5" textLength="55.20" lengthAdjust="spacingAndGlyphs" >Support 2</text>
<rect x="689.5" y="51" width="6.2" height="6.2" fill="#000" fill-opacity="0.12"/>
<rect x="688.5" y="50" width="6.2" height="6.2" fill="#9c6c6c"/>
<text x="698.50" y="56.00" font-size="10.5" textLength="55.20" lengthAdjust="spacingAndGlyphs" >Support 3</text>
<rect x="758.0" y="51" width="6.2" height="6.2" fill="#000" fill-opacity="0.12"/>
<rect x="757.0" y="50" width="6.2" height="6.2" fill="#62cc62"/>
<text x="767.00" y="57.60" font-size="10.5" textLength="71.90" lengthAdjust="spacingAndGlyphs" >Résistance 1</text>
<rect x="843.3" y="51" width="6.2" height="6.2" fill="#000" fill-opacity="0.12"/>
<rect x="842.3" y="50" width="6.2" height="6.2" fill="#62aa62"/>
<text x="852.30" y="57.60" font-size="10.5" textLength="71.40" lengthAdjust="spacingAndGlyphs" >Résistance 2</text>
<rect x="929.2" y="51" width="6.2" height="6.2" fill="#000" fill-opacity="0.12"/>
<rect x="928.2" y="50" width="6.2" height="6.2" fill="#5e8e5e"/>
<text x="937.60" y="57.60" font-size="10.5" textLength="70.90" lengthAdjust="spacingAndGlyphs" >Résistance 3</text>
<rect x="1013.8" y="51" width="6.2" height="6.2" fill="#000" fill-opacity="0.12"/>
<rect x="1012.8" y="50" width="6.2" height="6.2" fill="#5c5cff"/>
<text x="1022.40" y="56.90" font-size="10.5" textLength="30.90" lengthAdjust="spacingAndGlyphs" >MM20</text>
<rect x="1058.8" y="51" width="6.2" height="6.2" fill="#000" fill-opacity="0.12"/>
<rect x="1057.8" y="50" width="6.2" height="6.2" fill="#b25cf5"/>
<text x="1067.70" y="56.90" font-size="10.5" textLength="30.30" lengthAdjust="spacingAndGlyphs" >MM50</text>
<rect x="1103.5" y="51" width="6.2" height="6.2" fill="#000" fill-opacity="0.12"/>
<rect x="1102.5" y="50" width="6.2" height="6.2" fill="#ff5cff"/>
<text x="1112.50" y="56.90" font-size="10.5" textLength="37.40" lengthAdjust="spacingAndGlyphs" >MM100</text>
<rect x="101" y="812" width="1049.7" height="44" fill="#f8f8f8"/>
<rect x="101" y="725" width="1049.7" height="43" fill="#f8f8f8"/>
<path d="M115.5 725V900 M126.5 725V900 M137.5 725V900 M147.5 725V900 M168.5 725V900 M179.5 725V900 M190.5 725V900 M200.5 725V900 M221.5 725V900 M232.5 725V900 M243.5 725V900 M253.5 725V900 M275.5 725V900 M285.5 725V900 M296.5 725V900 M306.5 725V900 M328.5 725V900 M338.5 725V900 M349.5 725V900 M359.5 725V900 M381.5 725V900 M391.5 725V900 M402.5 725V900 M412.5 725V900 M434.5 725V900 M444.5 725V900 M455.5 725V900 M465.5 725V900 M487.5 725V900 M497.5 725V900 M508.5 725V900 M518.5 725V900 M540.5 725V900 M550.5 725V900 M561.5 725V900 M571.5 725V900 M593.5 725V900 M603.5 725V900 M614.5 725V900 M624.5 725V900 M646.5 725V900 M656.5 725V900 M667.5 725V900 M678.5 725V900 M699.5 725V900 M709.5 725V900 M720.5 725V900 M731.5 725V900 M752.5 725V900 M762.5 725V900 M773.5 725V900 M784.5 725V900 M805.5 725V900 M815.5 725V900 M826.5 725V900 M837.5 725V900 M858.5 725V900 M868.5 725V900 M879.5 725V900 M890.5 725V900 M911.5 725V900 M921.5 725V900 M932.5 725V900 M943.5 725V900 M964.5 725V900 M974.5 725V900 M985.5 725V900 M996.5 725V900 M1017.5 725V900 M1028.5 725V900 M1038.5 725V900 M1049.5 725V900 M1070.5 725V900 M1081.5 725V900 M1091.5 725V900 M1102.5 725V900 M1123.5 725V900 M1134.5 725V900 M1144.5 725V900" stroke="#000" stroke-opacity="0.02" stroke-width="1" stroke-dasharray="6 6" stroke-dashoffset="1" fill="none"/>
<path d="M105.5 725V900 M158.5 725V900 M211.5 725V900 M264.5 725V900 M317.5 725V900 M370.5 725V900 M423.5 725V900 M476.5 725V900 M529.5 725V900 M582.5 725V900 M635.5 725V900 M688.5 725V900 M741.5 725V900 M794.5 725V900 M847.5 725V900 M900.5 725V900 M953.5 725V900 M1006.5 725V900 M1059.5 725V900 M1112.5 725V900" stroke="#000" stroke-opacity="0.098" stroke-width="1" stroke-dasharray="4 4" stroke-dashoffset="1" fill="none"/>
<path d="M101 725.5H1150.7 M101 768.5H1150.7 M101 812.5H1150.7 M101 856.5H1150.7" stroke="#000" stroke-opacity="0.078" stroke-width="1" stroke-dasharray="4 4" stroke-dashoffset="2" fill="none"/>
<text y="694.5" font-size="22.6"><tspan font-family="DejaVu Sans Mono, Liberation Mono, monospace" x="110.85" textLength="11.15" lengthAdjust="spacingAndGlyphs">I</tspan><tspan x="120.36" textLength="67.14" lengthAdjust="spacingAndGlyphs">cade:</tspan> <tspan x="195.40" textLength="157.53" lengthAdjust="spacingAndGlyphs">graphique du</tspan> <tspan x="360.29" textLength="87.58" lengthAdjust="spacingAndGlyphs">volume</tspan> <tspan x="457.10" textLength="226.57" lengthAdjust="spacingAndGlyphs">- AnalyBourse.com</tspan></text>
<path d="M101 851H109V900H101Z M122 846H131V900H122Z M144 852H152V900H144Z M165 848H173V900H165Z M176 818H184V900H176Z M186 824H194V900H186Z M197 797H205V900H197Z M218 838H226V900H218Z M260 829H268V900H260Z M271 842H279V900H271Z M303 834H311V900H303Z M313 849H321V900H313Z M324 847H332V900H324Z M335 849H343V900H335Z M345 863H353V900H345Z M377 855H385V900H377Z M388 873H396V900H388Z M398 861H406V900H398Z M419 799H428V900H419Z M462 828H470V900H462Z M526 813H534V900H526Z M536 818H544V900H536Z M557 777H565V900H557Z M589 842H597V900H589Z M621 868H629V900H621Z M632 848H640V900H632Z M663 800H671V900H663Z M716 822H724V900H716Z M727 817H735V900H727Z M769 777H778V900H769Z M801 819H809V900H801Z M812 838H820V900H812Z M822 815H831V900H822Z M854 730H862V900H854Z M865 798H873V900H865Z M886 819H894V900H886Z M939 792H947V900H939Z M960 821H968V900H960Z M982 819H990V900H982Z M992 829H1000V900H992Z M1013 862H1021V900H1013Z M1024 851H1032V900H1024Z M1056 838H1064V900H1056Z M1077 819H1085V900H1077Z M1088 832H1096V900H1088Z M1119 863H1128V900H1119Z M1130 875H1138V900H1130Z" fill="#00fa00" fill-opacity="0.64"/>
<path d="M112 839H120V900H112Z M133 824H141V900H133Z M154 850H162V900H154Z M207 832H215V900H207Z M229 856H237V900H229Z M239 818H247V900H239Z M250 807H258V900H250Z M282 834H290V900H282Z M292 852H300V900H292Z M356 851H364V900H356Z M366 823H374V900H366Z M409 828H417V900H409Z M430 801H438V900H430Z M441 809H449V900H441Z M451 778H459V900H451Z M472 838H481V900H472Z M483 800H491V900H483Z M494 837H502V900H494Z M504 827H512V900H504Z M515 823H523V900H515Z M547 804H555V900H547Z M568 837H576V900H568Z M579 863H587V900H579Z M600 885H608V900H600Z M610 876H618V900H610Z M642 879H650V900H642Z M653 831H661V900H653Z M674 841H682V900H674Z M685 795H693V900H685Z M695 794H703V900H695Z M706 819H714V900H706Z M738 839H746V900H738Z M748 785H756V900H748Z M759 766H767V900H759Z M780 750H788V900H780Z M791 809H799V900H791Z M833 797H841V900H833Z M844 780H852V900H844Z M876 830H884V900H876Z M897 813H905V900H897Z M907 810H915V900H907Z M918 789H926V900H918Z M929 796H937V900H929Z M950 811H958V900H950Z M971 825H979V900H971Z M1003 852H1011V900H1003Z M1035 767H1043V900H1035Z M1045 804H1053V900H1045Z M1066 837H1074V900H1066Z M1098 836H1106V900H1098Z M1109 834H1117V900H1109Z M1141 890H1149V900H1141Z" fill="#fa0000" fill-opacity="0.64"/>
<path d="M108 851H109V900H108Z M130 846H131V900H130Z M151 852H152V900H151Z M172 848H173V900H172Z M183 818H184V900H183Z M193 824H194V900H193Z M204 797H205V900H204Z M225 838H226V900H225Z M267 829H268V900H267Z M278 842H279V900H278Z M310 834H311V900H310Z M320 849H321V900H320Z M331 847H332V900H331Z M342 849H343V900H342Z M352 863H353V900H352Z M384 855H385V900H384Z M395 873H396V900H395Z M405 861H406V900H405Z M427 799H428V900H427Z M469 828H470V900H469Z M533 813H534V900H533Z M543 818H544V900H543Z M564 777H565V900H564Z M596 842H597V900H596Z M628 868H629V900H628Z M639 848H640V900H639Z M670 800H671V900H670Z M723 822H724V900H723Z M734 817H735V900H734Z M777 777H778V900H777Z M808 819H809V900H808Z M819 838H820V900H819Z M830 815H831V900H830Z M861 730H862V900H861Z M872 798H873V900H872Z M893 819H894V900H893Z M946 792H947V900H946Z M967 821H968V900H967Z M989 819H990V900H989Z M999 829H1000V900H999Z M1020 862H1021V900H1020Z M1031 851H1032V900H1031Z M1063 838H1064V900H1063Z M1084 819H1085V900H1084Z M1095 832H1096V900H1095Z M1127 863H1128V900H1127Z M1137 875H1138V900H1137Z" fill="#00fa00" fill-opacity="0.3"/>
<path d="M119 839H120V900H119Z M140 824H141V900H140Z M161 850H162V900H161Z M214 832H215V900H214Z M236 856H237V900H236Z M246 818H247V900H246Z M257 807H258V900H257Z M289 834H290V900H289Z M299 852H300V900H299Z M363 851H364V900H363Z M373 823H374V900H373Z M416 828H417V900H416Z M437 801H438V900H437Z M448 809H449V900H448Z M458 778H459V900H458Z M480 838H481V900H480Z M490 800H491V900H490Z M501 837H502V900H501Z M511 827H512V900H511Z M522 823H523V900H522Z M554 804H555V900H554Z M575 837H576V900H575Z M586 863H587V900H586Z M607 885H608V900H607Z M617 876H618V900H617Z M649 879H650V900H649Z M660 831H661V900H660Z M681 841H682V900H681Z M692 795H693V900H692Z M702 794H703V900H702Z M713 819H714V900H713Z M745 839H746V900H745Z M755 785H756V900H755Z M766 766H767V900H766Z M787 750H788V900H787Z M798 809H799V900H798Z M840 797H841V900H840Z M851 780H852V900H851Z M883 830H884V900H883Z M904 813H905V900H904Z M914 810H915V900H914Z M925 789H926V900H925Z M936 796H937V900H936Z M957 811H958V900H957Z M978 825H979V900H978Z M1010 852H1011V900H1010Z M1042 767H1043V900H1042Z M1052 804H1053V900H1052Z M1073 837H1074V900H1073Z M1105 836H1106V900H1105Z M1116 834H1117V900H1116Z M1148 890H1149V900H1148Z" fill="#fa0000" fill-opacity="0.3"/>
<path d="M100.5 719V900.5" stroke="#000" stroke-width="1" fill="none"/>
<path d="M100.5 712.6L104.3 719.6H96.7Z" fill="#000"/>
<path d="M100 900.5H1156" stroke="#000" stroke-width="1" fill="none"/>
<path d="M1162.5 900.5L1155.5 904.2V896.8Z" fill="#000"/>
<text x="35.29" y="728.10" font-size="10.3" textLength="63.11" lengthAdjust="spacingAndGlyphs" >200,000.00</text>
<text x="35.29" y="771.10" font-size="10.3" textLength="63.11" lengthAdjust="spacingAndGlyphs" >150,000.00</text>
<text x="35.29" y="815.10" font-size="10.3" textLength="63.11" lengthAdjust="spacingAndGlyphs" >100,000.00</text>
<text x="42.31" y="859.10" font-size="10.3" textLength="56.09" lengthAdjust="spacingAndGlyphs" >50,000.00</text>
<text x="74.56" y="904.60" font-size="10.3" textLength="23.84" lengthAdjust="spacingAndGlyphs" >0.00</text>
<path d="M98 725.5H103 M98 768.5H103 M98 812.5H103 M98 856.5H103 M98 900.5H103" stroke="#000" stroke-width="1" fill="none"/>
<path d="M98 746.5H100 M98 790.5H100 M98 834.5H100 M98 878.5H100" stroke="#ff0000" stroke-width="1" fill="none"/>
<path d="M115.5 901V903 M126.5 901V903 M137.5 901V903 M147.5 901V903 M168.5 901V903 M179.5 901V903 M190.5 901V903 M200.5 901V903 M221.5 901V903 M232.5 901V903 M243.5 901V903 M253.5 901V903 M275.5 901V903 M285.5 901V903 M296.5 901V903 M306.5 901V903 M328.5 901V903 M338.5 901V903 M349.5 901V903 M359.5 901V903 M381.5 901V903 M391.5 901V903 M402.5 901V903 M412.5 901V903 M434.5 901V903 M444.5 901V903 M455.5 901V903 M465.5 901V903 M487.5 901V903 M497.5 901V903 M508.5 901V903 M518.5 901V903 M540.5 901V903 M550.5 901V903 M561.5 901V903 M571.5 901V903 M593.5 901V903 M603.5 901V903 M614.5 901V903 M624.5 901V903 M646.5 901V903 M656.5 901V903 M667.5 901V903 M678.5 901V903 M699.5 901V903 M709.5 901V903 M720.5 901V903 M731.5 901V903 M752.5 901V903 M762.5 901V903 M773.5 901V903 M784.5 901V903 M805.5 901V903 M815.5 901V903 M826.5 901V903 M837.5 901V903 M858.5 901V903 M868.5 901V903 M879.5 901V903 M890.5 901V903 M911.5 901V903 M921.5 901V903 M932.5 901V903 M943.5 901V903 M964.5 901V903 M974.5 901V903 M985.5 901V903 M996.5 901V903 M1017.5 901V903 M1028.5 901V903 M1038.5 901V903 M1049.5 901V903 M1070.5 901V903 M1081.5 901V903 M1091.5 901V903 M1102.5 901V903 M1123.5 901V903 M1134.5 901V903 M1144.5 901V903" stroke="#e8e8e8" stroke-width="1" fill="none"/>
<path d="M105.5 898V903 M158.5 898V903 M211.5 898V903 M264.5 898V903 M317.5 898V903 M370.5 898V903 M423.5 898V903 M476.5 898V903 M529.5 898V903 M582.5 898V903 M635.5 898V903 M688.5 898V903 M741.5 898V903 M794.5 898V903 M847.5 898V903 M900.5 898V903 M953.5 898V903 M1006.5 898V903 M1059.5 898V903 M1112.5 898V903" stroke="#000" stroke-width="1" fill="none"/>
<text x="88.07" y="912.80" font-size="10.5" textLength="37.47" lengthAdjust="spacingAndGlyphs" >20 Oct</text>
<text x="141.10" y="912.80" font-size="10.5" textLength="37.47" lengthAdjust="spacingAndGlyphs" >27 Oct</text>
<text x="196.46" y="912.80" font-size="10.5" textLength="32.80" lengthAdjust="spacingAndGlyphs" >3 Nov</text>
<text x="245.90" y="912.80" font-size="10.5" textLength="39.98" lengthAdjust="spacingAndGlyphs" >10 Nov</text>
<text x="298.93" y="912.80" font-size="10.5" textLength="39.98" lengthAdjust="spacingAndGlyphs" >17 Nov</text>
<text x="351.96" y="912.80" font-size="10.5" textLength="39.98" lengthAdjust="spacingAndGlyphs" >24 Nov</text>
<text x="402.89" y="914.10" font-size="10.5" textLength="44.20" lengthAdjust="spacingAndGlyphs" >1er Déc</text>
<text x="461.71" y="914.10" font-size="10.5" textLength="32.61" lengthAdjust="spacingAndGlyphs" >8 Déc</text>
<text x="511.15" y="914.10" font-size="10.5" textLength="39.79" lengthAdjust="spacingAndGlyphs" >15 Déc</text>
<text x="564.18" y="914.10" font-size="10.5" textLength="39.79" lengthAdjust="spacingAndGlyphs" >22 Déc</text>
<text x="617.21" y="914.10" font-size="10.5" textLength="39.79" lengthAdjust="spacingAndGlyphs" >30 Déc</text>
<text x="672.71" y="912.80" font-size="10.5" textLength="34.85" lengthAdjust="spacingAndGlyphs" >7 Janv</text>
<text x="722.15" y="912.80" font-size="10.5" textLength="42.03" lengthAdjust="spacingAndGlyphs" >14 Janv</text>
<text x="775.18" y="912.80" font-size="10.5" textLength="42.03" lengthAdjust="spacingAndGlyphs" >21 Janv</text>
<text x="828.21" y="912.80" font-size="10.5" textLength="42.03" lengthAdjust="spacingAndGlyphs" >28 Janv</text>
<text x="887.12" y="914.10" font-size="10.5" textLength="30.27" lengthAdjust="spacingAndGlyphs" >4 Fév</text>
<text x="936.56" y="914.10" font-size="10.5" textLength="37.45" lengthAdjust="spacingAndGlyphs" >11 Fév</text>
<text x="989.59" y="914.10" font-size="10.5" textLength="37.45" lengthAdjust="spacingAndGlyphs" >18 Fév</text>
<text x="1042.62" y="914.10" font-size="10.5" textLength="37.45" lengthAdjust="spacingAndGlyphs" >25 Fév</text>
<text x="1095.41" y="912.80" font-size="10.5" textLength="37.95" lengthAdjust="spacingAndGlyphs" >3 Mars</text>
<text x="504.05" y="924.70" font-size="10.5" textLength="245.30" lengthAdjust="spacingAndGlyphs" >Date (du 20 Octobre 2015 au 8 Mars 2016)</text>
<text transform="translate(33.3 831.2) rotate(-90)" font-size="11.2" textLength="41.9" lengthAdjust="spacingAndGlyphs">Volume</text>
<rect x="101" y="1130" width="1049.7" height="35" fill="#f8f8f8"/>
<rect x="101" y="1060" width="1049.7" height="35" fill="#f8f8f8"/>
<path d="M115.5 1025V1200 M126.5 1025V1200 M137.5 1025V1200 M147.5 1025V1200 M168.5 1025V1200 M179.5 1025V1200 M190.5 1025V1200 M200.5 1025V1200 M221.5 1025V1200 M232.5 1025V1200 M243.5 1025V1200 M253.5 1025V1200 M275.5 1025V1200 M285.5 1025V1200 M296.5 1025V1200 M306.5 1025V1200 M328.5 1025V1200 M338.5 1025V1200 M349.5 1025V1200 M359.5 1025V1200 M381.5 1025V1200 M391.5 1025V1200 M402.5 1025V1200 M412.5 1025V1200 M434.5 1025V1200 M444.5 1025V1200 M455.5 1025V1200 M465.5 1025V1200 M487.5 1025V1200 M497.5 1025V1200 M508.5 1025V1200 M518.5 1025V1200 M540.5 1025V1200 M550.5 1025V1200 M561.5 1025V1200 M571.5 1025V1200 M593.5 1025V1200 M603.5 1025V1200 M614.5 1025V1200 M624.5 1025V1200 M646.5 1025V1200 M656.5 1025V1200 M667.5 1025V1200 M678.5 1025V1200 M699.5 1025V1200 M709.5 1025V1200 M720.5 1025V1200 M731.5 1025V1200 M752.5 1025V1200 M762.5 1025V1200 M773.5 1025V1200 M784.5 1025V1200 M805.5 1025V1200 M815.5 1025V1200 M826.5 1025V1200 M837.5 1025V1200 M858.5 1025V1200 M868.5 1025V1200 M879.5 1025V1200 M890.5 1025V1200 M911.5 1025V1200 M921.5 1025V1200 M932.5 1025V1200 M943.5 1025V1200 M964.5 1025V1200 M974.5 1025V1200 M985.5 1025V1200 M996.5 1025V1200 M1017.5 1025V1200 M1028.5 1025V1200 M1038.5 1025V1200 M1049.5 1025V1200 M1070.5 1025V1200 M1081.5 1025V1200 M1091.5 1025V1200 M1102.5 1025V1200 M1123.5 1025V1200 M1134.5 1025V1200 M1144.5 1025V1200" stroke="#000" stroke-opacity="0.02" stroke-width="1" stroke-dasharray="6 6" stroke-dashoffset="1" fill="none"/>
<path d="M105.5 1025V1200 M158.5 1025V1200 M211.5 1025V1200 M264.5 1025V1200 M317.5 1025V1200 M370.5 1025V1200 M423.5 1025V1200 M476.5 1025V1200 M529.5 1025V1200 M582.5 1025V1200 M635.5 1025V1200 M688.5 1025V1200 M741.5 1025V1200 M794.5 1025V1200 M847.5 1025V1200 M900.5 1025V1200 M953.5 1025V1200 M1006.5 1025V1200 M1059.5 1025V1200 M1112.5 1025V1200" stroke="#000" stroke-opacity="0.098" stroke-width="1" stroke-dasharray="4 4" stroke-dashoffset="1" fill="none"/>
<path d="M101 1025.5H1150.7 M101 1060.5H1150.7 M101 1095.5H1150.7 M101 1130.5H1150.7 M101 1165.5H1150.7" stroke="#000" stroke-opacity="0.078" stroke-width="1" stroke-dasharray="4 4" stroke-dashoffset="2" fill="none"/>
<text y="994.5" font-size="22.6"><tspan font-family="DejaVu Sans Mono, Liberation Mono, monospace" x="110.85" textLength="11.15" lengthAdjust="spacingAndGlyphs">I</tspan><tspan x="120.36" textLength="67.14" lengthAdjust="spacingAndGlyphs">cade:</tspan> <tspan x="195.40" textLength="157.53" lengthAdjust="spacingAndGlyphs">graphique du</tspan> <tspan x="359.47" textLength="32.36" lengthAdjust="spacingAndGlyphs">RS</tspan><tspan font-family="DejaVu Sans Mono, Liberation Mono, monospace" x="390.03" textLength="13.68" lengthAdjust="spacingAndGlyphs">I</tspan> <tspan x="412.07" textLength="11.03" lengthAdjust="spacingAndGlyphs">-</tspan> <tspan x="430.22" textLength="32.93" lengthAdjust="spacingAndGlyphs">RS</tspan><tspan font-family="DejaVu Sans Mono, Liberation Mono, monospace" x="461.53" textLength="13.68" lengthAdjust="spacingAndGlyphs">I</tspan><tspan x="472.56" textLength="54.02" lengthAdjust="spacingAndGlyphs">(14)</tspan> <tspan x="536.00" textLength="225.46" lengthAdjust="spacingAndGlyphs">- AnalyBourse.com</tspan></text>
<path d="M105.25 1112.5H1144.75" stroke="#5c5c5c" stroke-width="1" fill="none"/>
<path d="M105 1085.5h5M110 1086.5h6M116 1085.5h2M120 1082.5h2M124 1079.5h2M137 1096.5h3M140 1095.5h5M145 1094.5h3M149 1096.5h2M155 1101.5h2M159 1102.5h2M161 1101.5h2M164 1099.5h2M166 1098.5h2M169 1096.5h2M172 1094.5h2M174 1093.5h2M177 1091.5h2M179 1090.5h3M182 1089.5h6M188 1088.5h4M192 1087.5h2M194 1086.5h3M197 1085.5h2M199 1084.5h2M211 1102.5h2M213 1101.5h4M217 1100.5h3M220 1099.5h13M253 1125.5h2M255 1124.5h4M259 1123.5h4M263 1122.5h3M266 1121.5h2M268 1120.5h2M270 1119.5h2M272 1118.5h2M274 1117.5h2M276 1118.5h2M278 1119.5h2M281 1121.5h2M283 1122.5h2M285 1123.5h6M291 1124.5h16M317 1112.5h2M319 1111.5h4M323 1110.5h4M327 1109.5h2M329 1108.5h2M332 1106.5h2M336 1103.5h2M338 1102.5h2M340 1101.5h4M344 1100.5h4M348 1099.5h3M351 1100.5h3M354 1101.5h4M358 1102.5h2M371 1115.5h2M375 1112.5h2M379 1109.5h2M383 1106.5h2M388 1102.5h2M391 1100.5h2M393 1099.5h2M395 1098.5h2M397 1097.5h2M399 1096.5h2M401 1095.5h3M404 1096.5h3M407 1097.5h4M411 1098.5h2M417 1093.5h2M423 1088.5h3M426 1087.5h6M432 1086.5h3M445 1113.5h2M448 1115.5h2M450 1116.5h2M453 1118.5h2M455 1119.5h3M458 1118.5h5M463 1117.5h3M466 1118.5h2M470 1121.5h2M474 1124.5h2M476 1125.5h2M478 1126.5h2M480 1127.5h2M482 1128.5h2M484 1129.5h2M486 1130.5h4M490 1131.5h5M495 1132.5h3M498 1133.5h2M501 1135.5h2M503 1136.5h2M506 1138.5h2M509 1140.5h2M513 1143.5h2M516 1145.5h2M520 1144.5h2M526 1139.5h2M530 1136.5h2M533 1134.5h2M535 1133.5h2M538 1131.5h2M540 1130.5h2M542 1131.5h3M545 1132.5h4M549 1133.5h3M552 1132.5h2M554 1131.5h2M556 1130.5h2M558 1129.5h2M560 1128.5h2M562 1129.5h2M564 1130.5h2M567 1132.5h2M569 1133.5h2M571 1134.5h2M573 1133.5h4M577 1132.5h4M581 1131.5h2M583 1130.5h2M585 1129.5h2M587 1128.5h2M589 1127.5h2M591 1126.5h2M593 1125.5h6M599 1124.5h6M605 1125.5h4M609 1126.5h4M613 1127.5h2M616 1125.5h2M621 1121.5h2M624 1119.5h3M627 1118.5h6M633 1117.5h4M637 1118.5h2M639 1119.5h2M641 1120.5h2M643 1121.5h2M645 1122.5h3M648 1123.5h3M651 1124.5h4M655 1125.5h2M667 1111.5h12M688 1126.5h2M690 1127.5h2M692 1128.5h2M694 1129.5h2M696 1130.5h2M698 1131.5h2M700 1132.5h2M704 1135.5h2M707 1137.5h2M722 1124.5h2M728 1119.5h2M731 1117.5h2M733 1118.5h2M735 1119.5h3M738 1120.5h2M740 1121.5h3M743 1120.5h2M745 1119.5h2M747 1118.5h2M749 1117.5h2M751 1116.5h2M753 1117.5h2M755 1118.5h2M758 1120.5h2M760 1121.5h2M764 1120.5h2M770 1115.5h2M784 1126.5h11M805 1104.5h2M807 1103.5h4M811 1102.5h3M814 1101.5h2M816 1100.5h2M819 1098.5h2M821 1097.5h2M824 1095.5h2M837 1109.5h2M839 1110.5h3M842 1111.5h4M846 1112.5h2M858 1093.5h2M860 1092.5h2M862 1091.5h3M865 1090.5h2M867 1089.5h2M873 1094.5h2M879 1099.5h3M882 1098.5h6M888 1097.5h4M892 1098.5h2M894 1099.5h3M897 1100.5h2M899 1101.5h2M901 1102.5h2M903 1103.5h2M905 1104.5h2M907 1105.5h2M909 1106.5h2M922 1122.5h2M926 1125.5h2M930 1128.5h2M933 1128.5h2M935 1127.5h2M937 1126.5h2M939 1125.5h2M941 1124.5h2M954 1132.5h2M958 1129.5h2M962 1126.5h2M965 1124.5h2M968 1122.5h2M972 1119.5h2M974 1118.5h12M987 1116.5h2M993 1111.5h2M996 1109.5h12M1008 1108.5h4M1012 1107.5h4M1016 1106.5h2M1018 1105.5h2M1022 1102.5h2M1026 1099.5h2M1038 1112.5h2M1040 1113.5h4M1044 1114.5h4M1048 1115.5h2M1051 1113.5h2M1056 1109.5h2M1059 1107.5h3M1062 1106.5h6M1068 1105.5h4M1072 1104.5h4M1076 1103.5h4M1080 1102.5h7M1087 1101.5h10M1097 1100.5h7M1104 1101.5h2M1106 1102.5h3M1109 1103.5h2M1111 1104.5h3M1114 1103.5h4M1118 1102.5h4M1122 1101.5h3M1125 1102.5h3M1128 1103.5h2M1130 1104.5h3M1133 1105.5h2M1136 1107.5h2M1141 1111.5h2M118.5 1084v1M119.5 1083v1M122.5 1081v1M123.5 1080v1M126.5 1078v1M127.5 1079v2M128.5 1081v2M129.5 1083v1M130.5 1084v2M131.5 1086v1M132.5 1087v2M133.5 1089v2M134.5 1091v1M135.5 1092v2M136.5 1094v2M148.5 1095v1M151.5 1097v1M152.5 1098v1M153.5 1099v1M154.5 1100v1M157.5 1102v1M158.5 1103v1M163.5 1100v1M168.5 1097v1M171.5 1095v1M176.5 1092v1M201.5 1085v2M202.5 1087v2M203.5 1089v1M204.5 1090v2M205.5 1092v1M206.5 1093v2M207.5 1095v2M208.5 1097v1M209.5 1098v2M210.5 1100v2M233.5 1100v1M234.5 1101v1M235.5 1102v1M236.5 1103v1M237.5 1104v1M238.5 1105v1M239.5 1106v1M240.5 1107v1M241.5 1108v1M242.5 1109v1M243.5 1110v1M244.5 1111v2M245.5 1113v1M246.5 1114v2M247.5 1116v1M248.5 1117v2M249.5 1119v1M250.5 1120v2M251.5 1122v1M252.5 1123v2M280.5 1120v1M307.5 1123v1M308.5 1122v1M309.5 1121v1M310.5 1120v1M311.5 1119v1M312.5 1117v2M313.5 1116v1M314.5 1115v1M315.5 1114v1M316.5 1113v1M331.5 1107v1M334.5 1105v1M335.5 1104v1M360.5 1103v1M361.5 1104v2M362.5 1106v1M363.5 1107v1M364.5 1108v1M365.5 1109v2M366.5 1111v1M367.5 1112v1M368.5 1113v2M369.5 1115v1M370.5 1116v1M373.5 1114v1M374.5 1113v1M377.5 1111v1M378.5 1110v1M381.5 1108v1M382.5 1107v1M385.5 1105v1M386.5 1104v1M387.5 1103v1M390.5 1101v1M413.5 1097v1M414.5 1096v1M415.5 1095v1M416.5 1094v1M419.5 1092v1M420.5 1091v1M421.5 1090v1M422.5 1089v1M434.5 1087v1M435.5 1088v2M436.5 1090v3M437.5 1093v3M438.5 1096v2M439.5 1098v3M440.5 1101v2M441.5 1103v3M442.5 1106v3M443.5 1109v2M444.5 1111v2M447.5 1114v1M452.5 1117v1M468.5 1119v1M469.5 1120v1M472.5 1122v1M473.5 1123v1M500.5 1134v1M505.5 1137v1M508.5 1139v1M511.5 1141v1M512.5 1142v1M515.5 1144v1M518.5 1146v1M519.5 1145v1M522.5 1143v1M523.5 1142v1M524.5 1141v1M525.5 1140v1M528.5 1138v1M529.5 1137v1M532.5 1135v1M537.5 1132v1M566.5 1131v1M615.5 1126v1M618.5 1124v1M619.5 1123v1M620.5 1122v1M623.5 1120v1M657.5 1124v1M658.5 1122v2M659.5 1121v1M660.5 1120v1M661.5 1119v1M662.5 1117v2M663.5 1116v1M664.5 1115v1M665.5 1113v2M666.5 1112v1M679.5 1112v2M680.5 1114v1M681.5 1115v2M682.5 1117v1M683.5 1118v2M684.5 1120v1M685.5 1121v2M686.5 1123v1M687.5 1124v2M702.5 1133v1M703.5 1134v1M706.5 1136v1M709.5 1138v1M710.5 1137v1M711.5 1136v1M712.5 1135v1M713.5 1134v1M714.5 1133v1M715.5 1131v2M716.5 1130v1M717.5 1129v1M718.5 1128v1M719.5 1127v1M720.5 1126v1M721.5 1125v1M724.5 1123v1M725.5 1122v1M726.5 1121v1M727.5 1120v1M730.5 1118v1M757.5 1119v1M762.5 1122v1M763.5 1121v1M766.5 1119v1M767.5 1118v1M768.5 1117v1M769.5 1116v1M772.5 1114v1M773.5 1113v1M774.5 1114v1M775.5 1115v1M776.5 1116v2M777.5 1118v1M778.5 1119v1M779.5 1120v1M780.5 1121v1M781.5 1122v2M782.5 1124v1M783.5 1125v1M795.5 1124v2M796.5 1122v2M797.5 1120v2M798.5 1118v2M799.5 1116v2M800.5 1114v2M801.5 1112v2M802.5 1110v2M803.5 1108v2M804.5 1106v2M805.5 1105v1M818.5 1099v1M823.5 1096v1M826.5 1094v1M827.5 1095v2M828.5 1097v1M829.5 1098v1M830.5 1099v2M831.5 1101v1M832.5 1102v1M833.5 1103v2M834.5 1105v1M835.5 1106v1M836.5 1107v2M848.5 1110v2M849.5 1108v2M850.5 1106v2M851.5 1105v1M852.5 1103v2M853.5 1101v2M854.5 1100v1M855.5 1098v2M856.5 1096v2M857.5 1094v2M869.5 1090v1M870.5 1091v1M871.5 1092v1M872.5 1093v1M875.5 1095v1M876.5 1096v1M877.5 1097v1M878.5 1098v1M911.5 1107v1M912.5 1108v2M913.5 1110v1M914.5 1111v1M915.5 1112v2M916.5 1114v1M917.5 1115v2M918.5 1117v1M919.5 1118v1M920.5 1119v2M921.5 1121v1M924.5 1123v1M925.5 1124v1M928.5 1126v1M929.5 1127v1M932.5 1129v1M943.5 1123v1M944.5 1124v1M945.5 1125v1M946.5 1126v1M947.5 1127v1M948.5 1128v1M949.5 1129v1M950.5 1130v1M951.5 1131v1M952.5 1132v1M953.5 1133v1M956.5 1131v1M957.5 1130v1M960.5 1128v1M961.5 1127v1M964.5 1125v1M967.5 1123v1M970.5 1121v1M971.5 1120v1M986.5 1117v1M989.5 1115v1M990.5 1114v1M991.5 1113v1M992.5 1112v1M995.5 1110v1M1020.5 1104v1M1021.5 1103v1M1024.5 1101v1M1025.5 1100v1M1028.5 1098v1M1029.5 1099v2M1030.5 1101v1M1031.5 1102v1M1032.5 1103v2M1033.5 1105v1M1034.5 1106v2M1035.5 1108v1M1036.5 1109v1M1037.5 1110v2M1050.5 1114v1M1053.5 1112v1M1054.5 1111v1M1055.5 1110v1M1058.5 1108v1M1135.5 1106v1M1138.5 1108v1M1139.5 1109v1M1140.5 1110v1M1143.5 1112v1M1144.5 1113v1" stroke="#ff3c3c" stroke-width="1" fill="none"/>
<path d="M100.5 1019V1200.5" stroke="#000" stroke-width="1" fill="none"/>
<path d="M100.5 1012.6L104.3 1019.6H96.7Z" fill="#000"/>
<path d="M100 1200.5H1156" stroke="#000" stroke-width="1" fill="none"/>
<path d="M1162.5 1200.5L1155.5 1204.2V1196.8Z" fill="#000"/>
<text x="60.94" y="1029.60" font-size="10.3" textLength="37.46" lengthAdjust="spacingAndGlyphs" >100.00</text>
<text x="67.75" y="1064.60" font-size="10.3" textLength="30.65" lengthAdjust="spacingAndGlyphs" >80.00</text>
<text x="67.75" y="1099.60" font-size="10.3" textLength="30.65" lengthAdjust="spacingAndGlyphs" >60.00</text>
<text x="66.10" y="1134.60" font-size="10.3" textLength="32.30" lengthAdjust="spacingAndGlyphs" >40.00</text>
<text x="67.75" y="1169.60" font-size="10.3" textLength="30.65" lengthAdjust="spacingAndGlyphs" >20.00</text>
<text x="74.56" y="1204.60" font-size="10.3" textLength="23.84" lengthAdjust="spacingAndGlyphs" >0.00</text>
<path d="M98 1025.5H103 M98 1060.5H103 M98 1095.5H103 M98 1130.5H103 M98 1165.5H103 M98 1200.5H103" stroke="#000" stroke-width="1" fill="none"/>
<path d="M98 1042.5H100 M98 1077.5H100 M98 1112.5H100 M98 1147.5H100 M98 1182.5H100" stroke="#ff0000" stroke-width="1" fill="none"/>
<path d="M115.5 1201V1203 M126.5 1201V1203 M137.5 1201V1203 M147.5 1201V1203 M168.5 1201V1203 M179.5 1201V1203 M190.5 1201V1203 M200.5 1201V1203 M221.5 1201V1203 M232.5 1201V1203 M243.5 1201V1203 M253.5 1201V1203 M275.5 1201V1203 M285.5 1201V1203 M296.5 1201V1203 M306.5 1201V1203 M328.5 1201V1203 M338.5 1201V1203 M349.5 1201V1203 M359.5 1201V1203 M381.5 1201V1203 M391.5 1201V1203 M402.5 1201V1203 M412.5 1201V1203 M434.5 1201V1203 M444.5 1201V1203 M455.5 1201V1203 M465.5 1201V1203 M487.5 1201V1203 M497.5 1201V1203 M508.5 1201V1203 M518.5 1201V1203 M540.5 1201V1203 M550.5 1201V1203 M561.5 1201V1203 M571.5 1201V1203 M593.5 1201V1203 M603.5 1201V1203 M614.5 1201V1203 M624.5 1201V1203 M646.5 1201V1203 M656.5 1201V1203 M667.5 1201V1203 M678.5 1201V1203 M699.5 1201V1203 M709.5 1201V1203 M720.5 1201V1203 M731.5 1201V1203 M752.5 1201V1203 M762.5 1201V1203 M773.5 1201V1203 M784.5 1201V1203 M805.5 1201V1203 M815.5 1201V1203 M826.5 1201V1203 M837.5 1201V1203 M858.5 1201V1203 M868.5 1201V1203 M879.5 1201V1203 M890.5 1201V1203 M911.5 1201V1203 M921.5 1201V1203 M932.5 1201V1203 M943.5 1201V1203 M964.5 1201V1203 M974.5 1201V1203 M985.5 1201V1203 M996.5 1201V1203 M1017.5 1201V1203 M1028.5 1201V1203 M1038.5 1201V1203 M1049.5 1201V1203 M1070.5 1201V1203 M1081.5 1201V1203 M1091.5 1201V1203 M1102.5 1201V1203 M1123.5 1201V1203 M1134.5 1201V1203 M1144.5 1201V1203" stroke="#e8e8e8" stroke-width="1" fill="none"/>
<path d="M105.5 1198V1203 M158.5 1198V1203 M211.5 1198V1203 M264.5 1198V1203 M317.5 1198V1203 M370.5 1198V1203 M423.5 1198V1203 M476.5 1198V1203 M529.5 1198V1203 M582.5 1198V1203 M635.5 1198V1203 M688.5 1198V1203 M741.5 1198V1203 M794.5 1198V1203 M847.5 1198V1203 M900.5 1198V1203 M953.5 1198V1203 M1006.5 1198V1203 M1059.5 1198V1203 M1112.5 1198V1203" stroke="#000" stroke-width="1" fill="none"/>
<text x="88.07" y="1212.80" font-size="10.5" textLength="37.47" lengthAdjust="spacingAndGlyphs" >20 Oct</text>
<text x="141.10" y="1212.80" font-size="10.5" textLength="37.47" lengthAdjust="spacingAndGlyphs" >27 Oct</text>
<text x="196.46" y="1212.80" font-size="10.5" textLength="32.80" lengthAdjust="spacingAndGlyphs" >3 Nov</text>
<text x="245.90" y="1212.80" font-size="10.5" textLength="39.98" lengthAdjust="spacingAndGlyphs" >10 Nov</text>
<text x="298.93" y="1212.80" font-size="10.5" textLength="39.98" lengthAdjust="spacingAndGlyphs" >17 Nov</text>
<text x="351.96" y="1212.80" font-size="10.5" textLength="39.98" lengthAdjust="spacingAndGlyphs" >24 Nov</text>
<text x="402.89" y="1214.10" font-size="10.5" textLength="44.20" lengthAdjust="spacingAndGlyphs" >1er Déc</text>
<text x="461.71" y="1214.10" font-size="10.5" textLength="32.61" lengthAdjust="spacingAndGlyphs" >8 Déc</text>
<text x="511.15" y="1214.10" font-size="10.5" textLength="39.79" lengthAdjust="spacingAndGlyphs" >15 Déc</text>
<text x="564.18" y="1214.10" font-size="10.5" textLength="39.79" lengthAdjust="spacingAndGlyphs" >22 Déc</text>
<text x="617.21" y="1214.10" font-size="10.5" textLength="39.79" lengthAdjust="spacingAndGlyphs" >30 Déc</text>
<text x="672.71" y="1212.80" font-size="10.5" textLength="34.85" lengthAdjust="spacingAndGlyphs" >7 Janv</text>
<text x="722.15" y="1212.80" font-size="10.5" textLength="42.03" lengthAdjust="spacingAndGlyphs" >14 Janv</text>
<text x="775.18" y="1212.80" font-size="10.5" textLength="42.03" lengthAdjust="spacingAndGlyphs" >21 Janv</text>
<text x="828.21" y="1212.80" font-size="10.5" textLength="42.03" lengthAdjust="spacingAndGlyphs" >28 Janv</text>
<text x="887.12" y="1214.10" font-size="10.5" textLength="30.27" lengthAdjust="spacingAndGlyphs" >4 Fév</text>
<text x="936.56" y="1214.10" font-size="10.5" textLength="37.45" lengthAdjust="spacingAndGlyphs" >11 Fév</text>
<text x="989.59" y="1214.10" font-size="10.5" textLength="37.45" lengthAdjust="spacingAndGlyphs" >18 Fév</text>
<text x="1042.62" y="1214.10" font-size="10.5" textLength="37.45" lengthAdjust="spacingAndGlyphs" >25 Fév</text>
<text x="1095.41" y="1212.80" font-size="10.5" textLength="37.95" lengthAdjust="spacingAndGlyphs" >3 Mars</text>
<text x="504.05" y="1224.70" font-size="10.5" textLength="245.30" lengthAdjust="spacingAndGlyphs" >Date (du 20 Octobre 2015 au 8 Mars 2016)</text>
<text transform="translate(58.2 1120.2) rotate(-90)" font-size="11.2"><tspan x="-1.24" textLength="16.52" lengthAdjust="spacingAndGlyphs">RS</tspan><tspan font-family="DejaVu Sans Mono, Liberation Mono, monospace" x="14.66" textLength="6.24" lengthAdjust="spacingAndGlyphs">I</tspan></text>
<rect x="101" y="1450" width="1049.7" height="25" fill="#f8f8f8"/>
<rect x="101" y="1400" width="1049.7" height="25" fill="#f8f8f8"/>
<rect x="101" y="1350" width="1049.7" height="25" fill="#f8f8f8"/>
<path d="M115.5 1325V1500 M126.5 1325V1500 M137.5 1325V1500 M147.5 1325V1500 M168.5 1325V1500 M179.5 1325V1500 M190.5 1325V1500 M200.5 1325V1500 M221.5 1325V1500 M232.5 1325V1500 M243.5 1325V1500 M253.5 1325V1500 M275.5 1325V1500 M285.5 1325V1500 M296.5 1325V1500 M306.5 1325V1500 M328.5 1325V1500 M338.5 1325V1500 M349.5 1325V1500 M359.5 1325V1500 M381.5 1325V1500 M391.5 1325V1500 M402.5 1325V1500 M412.5 1325V1500 M434.5 1325V1500 M444.5 1325V1500 M455.5 1325V1500 M465.5 1325V1500 M487.5 1325V1500 M497.5 1325V1500 M508.5 1325V1500 M518.5 1325V1500 M540.5 1325V1500 M550.5 1325V1500 M561.5 1325V1500 M571.5 1325V1500 M593.5 1325V1500 M603.5 1325V1500 M614.5 1325V1500 M624.5 1325V1500 M646.5 1325V1500 M656.5 1325V1500 M667.5 1325V1500 M678.5 1325V1500 M699.5 1325V1500 M709.5 1325V1500 M720.5 1325V1500 M731.5 1325V1500 M752.5 1325V1500 M762.5 1325V1500 M773.5 1325V1500 M784.5 1325V1500 M805.5 1325V1500 M815.5 1325V1500 M826.5 1325V1500 M837.5 1325V1500 M858.5 1325V1500 M868.5 1325V1500 M879.5 1325V1500 M890.5 1325V1500 M911.5 1325V1500 M921.5 1325V1500 M932.5 1325V1500 M943.5 1325V1500 M964.5 1325V1500 M974.5 1325V1500 M985.5 1325V1500 M996.5 1325V1500 M1017.5 1325V1500 M1028.5 1325V1500 M1038.5 1325V1500 M1049.5 1325V1500 M1070.5 1325V1500 M1081.5 1325V1500 M1091.5 1325V1500 M1102.5 1325V1500 M1123.5 1325V1500 M1134.5 1325V1500 M1144.5 1325V1500" stroke="#000" stroke-opacity="0.02" stroke-width="1" stroke-dasharray="6 6" stroke-dashoffset="1" fill="none"/>
<path d="M105.5 1325V1500 M158.5 1325V1500 M211.5 1325V1500 M264.5 1325V1500 M317.5 1325V1500 M370.5 1325V1500 M423.5 1325V1500 M476.5 1325V1500 M529.5 1325V1500 M582.5 1325V1500 M635.5 1325V1500 M688.5 1325V1500 M741.5 1325V1500 M794.5 1325V1500 M847.5 1325V1500 M900.5 1325V1500 M953.5 1325V1500 M1006.5 1325V1500 M1059.5 1325V1500 M1112.5 1325V1500" stroke="#000" stroke-opacity="0.098" stroke-width="1" stroke-dasharray="4 4" stroke-dashoffset="1" fill="none"/>
<path d="M101 1325.5H1150.7 M101 1350.5H1150.7 M101 1375.5H1150.7 M101 1400.5H1150.7 M101 1425.5H1150.7 M101 1450.5H1150.7 M101 1475.5H1150.7" stroke="#000" stroke-opacity="0.078" stroke-width="1" stroke-dasharray="4 4" stroke-dashoffset="2" fill="none"/>
<text y="1294.5" font-size="22.6"><tspan font-family="DejaVu Sans Mono, Liberation Mono, monospace" x="110.85" textLength="11.15" lengthAdjust="spacingAndGlyphs">I</tspan><tspan x="120.36" textLength="67.14" lengthAdjust="spacingAndGlyphs">cade:</tspan> <tspan x="195.40" textLength="157.53" lengthAdjust="spacingAndGlyphs">graphique du</tspan> <tspan x="360.09" textLength="72.30" lengthAdjust="spacingAndGlyphs">MACD</tspan> <tspan x="441.08" textLength="10.21" lengthAdjust="spacingAndGlyphs">-</tspan> <tspan x="458.52" textLength="188.59" lengthAdjust="spacingAndGlyphs">MACD(12,26,9)</tspan> <tspan x="656.30" textLength="225.96" lengthAdjust="spacingAndGlyphs">- AnalyBourse.com</tspan></text>
<clipPath id="up"><rect x="100" y="1300" width="1060" height="101"/></clipPath><clipPath id="dn"><rect x="100" y="1401" width="1060" height="120"/></clipPath>
<path d="M105.3 1334.5 C106.5 1335.2 113.4 1340.0 115.9 1340.5 C118.4 1341.0 124.0 1337.4 126.5 1339.0 C129.0 1340.6 134.6 1351.6 137.1 1354.5 C139.6 1357.4 145.3 1360.8 147.7 1364.0 C150.2 1367.2 155.9 1379.0 158.3 1381.5 C160.8 1384.0 166.5 1384.8 168.9 1385.0 C171.4 1385.2 177.1 1383.5 179.5 1383.0 C182.0 1382.5 187.7 1381.3 190.2 1380.5 C192.6 1379.7 198.3 1374.7 200.8 1375.8 C203.2 1376.8 208.9 1387.1 211.4 1389.5 C213.8 1391.9 219.5 1394.8 222.0 1396.2 C224.4 1397.7 230.1 1400.0 232.6 1402.0 C235.1 1404.0 240.7 1409.2 243.2 1413.8 C245.7 1418.3 251.3 1436.7 253.8 1441.2 C256.3 1445.8 261.9 1450.9 264.4 1452.5 C266.9 1454.1 272.5 1454.2 275.0 1455.0 C277.5 1455.8 283.1 1458.8 285.6 1459.5 C288.1 1460.2 293.7 1460.8 296.2 1460.8 C298.7 1460.7 304.3 1460.6 306.8 1459.0 C309.3 1457.4 314.9 1450.1 317.4 1447.0 C319.9 1443.9 325.6 1436.1 328.0 1432.5 C330.5 1428.9 336.2 1419.8 338.6 1416.2 C341.1 1412.8 346.8 1404.5 349.2 1402.5 C351.7 1400.5 357.4 1398.9 359.8 1399.2 C362.3 1399.6 368.0 1405.4 370.5 1405.8 C372.9 1406.1 378.6 1404.1 381.1 1402.5 C383.5 1400.9 389.2 1394.3 391.7 1392.0 C394.1 1389.7 399.8 1383.9 402.3 1382.5 C404.7 1381.1 410.4 1381.8 412.9 1380.0 C415.4 1378.2 421.0 1369.3 423.5 1367.0 C426.0 1364.7 431.6 1358.8 434.1 1360.0 C436.6 1361.2 442.2 1372.7 444.7 1377.5 C447.2 1382.3 452.8 1397.2 455.3 1401.2 C457.8 1405.3 463.4 1409.3 465.9 1412.5 C468.4 1415.7 474.0 1424.8 476.5 1428.8 C479.0 1432.7 484.6 1442.9 487.1 1446.2 C489.6 1449.6 495.3 1454.3 497.7 1457.5 C500.2 1460.7 505.9 1470.2 508.3 1473.8 C510.8 1477.2 516.5 1486.0 518.9 1487.5 C521.4 1489.0 527.1 1487.8 529.5 1486.2 C532.0 1484.7 537.7 1476.4 540.2 1474.0 C542.6 1471.6 548.3 1468.0 550.8 1465.5 C553.2 1463.0 558.9 1455.0 561.4 1453.0 C563.8 1451.0 569.5 1450.4 572.0 1448.8 C574.4 1447.1 580.1 1441.5 582.6 1438.8 C585.1 1436.0 590.7 1427.8 593.2 1425.0 C595.7 1422.2 601.3 1417.0 603.8 1415.0 C606.3 1413.0 611.9 1409.7 614.4 1407.5 C616.9 1405.3 622.5 1398.6 625.0 1396.2 C627.5 1393.9 633.1 1388.7 635.6 1387.5 C638.1 1386.3 643.7 1386.1 646.2 1386.0 C648.7 1385.9 654.3 1388.2 656.8 1387.0 C659.3 1385.8 664.9 1377.6 667.4 1375.8 C669.9 1373.9 675.6 1370.8 678.0 1371.5 C680.5 1372.2 686.2 1379.3 688.6 1382.0 C691.1 1384.7 696.8 1391.9 699.2 1395.0 C701.7 1398.1 707.4 1406.8 709.8 1408.2 C712.3 1409.7 718.0 1408.7 720.5 1407.5 C722.9 1406.3 728.6 1399.6 731.1 1398.2 C733.5 1396.9 739.2 1397.1 741.7 1396.2 C744.1 1395.4 749.8 1391.5 752.3 1391.0 C754.7 1390.5 760.4 1392.7 762.9 1392.0 C765.4 1391.3 771.0 1384.7 773.5 1385.0 C776.0 1385.3 781.6 1392.8 784.1 1394.5 C786.6 1396.2 792.2 1401.7 794.7 1400.0 C797.2 1398.3 802.8 1384.1 805.3 1380.0 C807.8 1375.9 813.4 1368.7 815.9 1365.0 C818.4 1361.3 824.0 1349.0 826.5 1348.0 C829.0 1347.0 834.6 1354.2 837.1 1356.0 C839.6 1357.8 845.3 1364.6 847.7 1363.0 C850.2 1361.4 855.9 1345.9 858.3 1342.0 C860.8 1338.1 866.5 1330.4 868.9 1329.5 C871.4 1328.6 877.1 1333.2 879.5 1334.0 C882.0 1334.8 887.7 1335.0 890.2 1336.2 C892.6 1337.5 898.3 1341.6 900.8 1345.0 C903.2 1348.4 908.9 1359.2 911.4 1365.0 C913.8 1370.8 919.5 1387.6 922.0 1395.0 C924.4 1402.4 930.1 1423.4 932.6 1428.8 C935.1 1434.1 940.7 1437.0 943.2 1441.2 C945.7 1445.5 951.3 1461.9 953.8 1465.0 C956.3 1468.1 961.9 1468.5 964.4 1467.5 C966.9 1466.5 972.5 1459.0 975.0 1456.2 C977.5 1453.5 983.1 1447.7 985.6 1443.8 C988.1 1439.8 993.7 1426.3 996.2 1422.5 C998.7 1418.7 1004.3 1414.3 1006.8 1411.2 C1009.3 1408.2 1014.9 1400.5 1017.4 1396.2 C1019.9 1392.0 1025.6 1376.6 1028.0 1375.0 C1030.5 1373.4 1036.2 1380.7 1038.6 1382.5 C1041.1 1384.3 1046.8 1390.5 1049.2 1390.8 C1051.7 1391.0 1057.4 1386.3 1059.8 1385.0 C1062.3 1383.7 1068.0 1381.4 1070.5 1380.0 C1072.9 1378.6 1078.6 1374.4 1081.1 1373.0 C1083.5 1371.6 1089.2 1369.0 1091.7 1368.2 C1094.1 1367.5 1099.8 1366.6 1102.3 1367.0 C1104.7 1367.4 1110.4 1371.2 1112.9 1372.0 C1115.4 1372.8 1121.0 1373.0 1123.5 1374.0 C1126.0 1375.0 1131.6 1378.3 1134.1 1380.5 C1136.6 1382.7 1143.5 1391.5 1144.7 1393.0 L1144.7 1401 L105.3 1401Z" fill="#00ff00" fill-opacity="0.42" clip-path="url(#up)"/>
<path d="M105.3 1334.5 C106.5 1335.2 113.4 1340.0 115.9 1340.5 C118.4 1341.0 124.0 1337.4 126.5 1339.0 C129.0 1340.6 134.6 1351.6 137.1 1354.5 C139.6 1357.4 145.3 1360.8 147.7 1364.0 C150.2 1367.2 155.9 1379.0 158.3 1381.5 C160.8 1384.0 166.5 1384.8 168.9 1385.0 C171.4 1385.2 177.1 1383.5 179.5 1383.0 C182.0 1382.5 187.7 1381.3 190.2 1380.5 C192.6 1379.7 198.3 1374.7 200.8 1375.8 C203.2 1376.8 208.9 1387.1 211.4 1389.5 C213.8 1391.9 219.5 1394.8 222.0 1396.2 C224.4 1397.7 230.1 1400.0 232.6 1402.0 C235.1 1404.0 240.7 1409.2 243.2 1413.8 C245.7 1418.3 251.3 1436.7 253.8 1441.2 C256.3 1445.8 261.9 1450.9 264.4 1452.5 C266.9 1454.1 272.5 1454.2 275.0 1455.0 C277.5 1455.8 283.1 1458.8 285.6 1459.5 C288.1 1460.2 293.7 1460.8 296.2 1460.8 C298.7 1460.7 304.3 1460.6 306.8 1459.0 C309.3 1457.4 314.9 1450.1 317.4 1447.0 C319.9 1443.9 325.6 1436.1 328.0 1432.5 C330.5 1428.9 336.2 1419.8 338.6 1416.2 C341.1 1412.8 346.8 1404.5 349.2 1402.5 C351.7 1400.5 357.4 1398.9 359.8 1399.2 C362.3 1399.6 368.0 1405.4 370.5 1405.8 C372.9 1406.1 378.6 1404.1 381.1 1402.5 C383.5 1400.9 389.2 1394.3 391.7 1392.0 C394.1 1389.7 399.8 1383.9 402.3 1382.5 C404.7 1381.1 410.4 1381.8 412.9 1380.0 C415.4 1378.2 421.0 1369.3 423.5 1367.0 C426.0 1364.7 431.6 1358.8 434.1 1360.0 C436.6 1361.2 442.2 1372.7 444.7 1377.5 C447.2 1382.3 452.8 1397.2 455.3 1401.2 C457.8 1405.3 463.4 1409.3 465.9 1412.5 C468.4 1415.7 474.0 1424.8 476.5 1428.8 C479.0 1432.7 484.6 1442.9 487.1 1446.2 C489.6 1449.6 495.3 1454.3 497.7 1457.5 C500.2 1460.7 505.9 1470.2 508.3 1473.8 C510.8 1477.2 516.5 1486.0 518.9 1487.5 C521.4 1489.0 527.1 1487.8 529.5 1486.2 C532.0 1484.7 537.7 1476.4 540.2 1474.0 C542.6 1471.6 548.3 1468.0 550.8 1465.5 C553.2 1463.0 558.9 1455.0 561.4 1453.0 C563.8 1451.0 569.5 1450.4 572.0 1448.8 C574.4 1447.1 580.1 1441.5 582.6 1438.8 C585.1 1436.0 590.7 1427.8 593.2 1425.0 C595.7 1422.2 601.3 1417.0 603.8 1415.0 C606.3 1413.0 611.9 1409.7 614.4 1407.5 C616.9 1405.3 622.5 1398.6 625.0 1396.2 C627.5 1393.9 633.1 1388.7 635.6 1387.5 C638.1 1386.3 643.7 1386.1 646.2 1386.0 C648.7 1385.9 654.3 1388.2 656.8 1387.0 C659.3 1385.8 664.9 1377.6 667.4 1375.8 C669.9 1373.9 675.6 1370.8 678.0 1371.5 C680.5 1372.2 686.2 1379.3 688.6 1382.0 C691.1 1384.7 696.8 1391.9 699.2 1395.0 C701.7 1398.1 707.4 1406.8 709.8 1408.2 C712.3 1409.7 718.0 1408.7 720.5 1407.5 C722.9 1406.3 728.6 1399.6 731.1 1398.2 C733.5 1396.9 739.2 1397.1 741.7 1396.2 C744.1 1395.4 749.8 1391.5 752.3 1391.0 C754.7 1390.5 760.4 1392.7 762.9 1392.0 C765.4 1391.3 771.0 1384.7 773.5 1385.0 C776.0 1385.3 781.6 1392.8 784.1 1394.5 C786.6 1396.2 792.2 1401.7 794.7 1400.0 C797.2 1398.3 802.8 1384.1 805.3 1380.0 C807.8 1375.9 813.4 1368.7 815.9 1365.0 C818.4 1361.3 824.0 1349.0 826.5 1348.0 C829.0 1347.0 834.6 1354.2 837.1 1356.0 C839.6 1357.8 845.3 1364.6 847.7 1363.0 C850.2 1361.4 855.9 1345.9 858.3 1342.0 C860.8 1338.1 866.5 1330.4 868.9 1329.5 C871.4 1328.6 877.1 1333.2 879.5 1334.0 C882.0 1334.8 887.7 1335.0 890.2 1336.2 C892.6 1337.5 898.3 1341.6 900.8 1345.0 C903.2 1348.4 908.9 1359.2 911.4 1365.0 C913.8 1370.8 919.5 1387.6 922.0 1395.0 C924.4 1402.4 930.1 1423.4 932.6 1428.8 C935.1 1434.1 940.7 1437.0 943.2 1441.2 C945.7 1445.5 951.3 1461.9 953.8 1465.0 C956.3 1468.1 961.9 1468.5 964.4 1467.5 C966.9 1466.5 972.5 1459.0 975.0 1456.2 C977.5 1453.5 983.1 1447.7 985.6 1443.8 C988.1 1439.8 993.7 1426.3 996.2 1422.5 C998.7 1418.7 1004.3 1414.3 1006.8 1411.2 C1009.3 1408.2 1014.9 1400.5 1017.4 1396.2 C1019.9 1392.0 1025.6 1376.6 1028.0 1375.0 C1030.5 1373.4 1036.2 1380.7 1038.6 1382.5 C1041.1 1384.3 1046.8 1390.5 1049.2 1390.8 C1051.7 1391.0 1057.4 1386.3 1059.8 1385.0 C1062.3 1383.7 1068.0 1381.4 1070.5 1380.0 C1072.9 1378.6 1078.6 1374.4 1081.1 1373.0 C1083.5 1371.6 1089.2 1369.0 1091.7 1368.2 C1094.1 1367.5 1099.8 1366.6 1102.3 1367.0 C1104.7 1367.4 1110.4 1371.2 1112.9 1372.0 C1115.4 1372.8 1121.0 1373.0 1123.5 1374.0 C1126.0 1375.0 1131.6 1378.3 1134.1 1380.5 C1136.6 1382.7 1143.5 1391.5 1144.7 1393.0 L1144.7 1401 L105.3 1401Z" fill="#ff0000" fill-opacity="0.42" clip-path="url(#dn)"/>
<path d="M105.25 1400.5H1144.75" stroke="#7dfa7d" stroke-width="1" fill="none"/>
<path d="M100.5 1319V1500.5" stroke="#000" stroke-width="1" fill="none"/>
<path d="M100.5 1312.6L104.3 1319.6H96.7Z" fill="#000"/>
<path d="M100 1500.5H1156" stroke="#000" stroke-width="1" fill="none"/>
<path d="M1162.5 1500.5L1155.5 1504.2V1496.8Z" fill="#000"/>
<text x="74.56" y="1329.60" font-size="10.3" textLength="23.84" lengthAdjust="spacingAndGlyphs" >0.60</text>
<text x="74.56" y="1354.60" font-size="10.3" textLength="23.84" lengthAdjust="spacingAndGlyphs" >0.40</text>
<text x="74.56" y="1379.60" font-size="10.3" textLength="23.84" lengthAdjust="spacingAndGlyphs" >0.20</text>
<text x="74.56" y="1404.60" font-size="10.3" textLength="23.84" lengthAdjust="spacingAndGlyphs" >0.00</text>
<text x="69.77" y="1429.60" font-size="10.3" textLength="28.63" lengthAdjust="spacingAndGlyphs" >-0.20</text>
<text x="69.77" y="1454.60" font-size="10.3" textLength="28.63" lengthAdjust="spacingAndGlyphs" >-0.40</text>
<text x="69.77" y="1479.60" font-size="10.3" textLength="28.63" lengthAdjust="spacingAndGlyphs" >-0.60</text>
<text x="69.77" y="1504.60" font-size="10.3" textLength="28.63" lengthAdjust="spacingAndGlyphs" >-0.80</text>
<path d="M98 1325.5H103 M98 1350.5H103 M98 1375.5H103 M98 1400.5H103 M98 1425.5H103 M98 1450.5H103 M98 1475.5H103 M98 1500.5H103" stroke="#000" stroke-width="1" fill="none"/>
<path d="M98 1337.5H100 M98 1362.5H100 M98 1387.5H100 M98 1412.5H100 M98 1437.5H100 M98 1462.5H100 M98 1487.5H100" stroke="#ff0000" stroke-width="1" fill="none"/>
<path d="M115.5 1501V1503 M126.5 1501V1503 M137.5 1501V1503 M147.5 1501V1503 M168.5 1501V1503 M179.5 1501V1503 M190.5 1501V1503 M200.5 1501V1503 M221.5 1501V1503 M232.5 1501V1503 M243.5 1501V1503 M253.5 1501V1503 M275.5 1501V1503 M285.5 1501V1503 M296.5 1501V1503 M306.5 1501V1503 M328.5 1501V1503 M338.5 1501V1503 M349.5 1501V1503 M359.5 1501V1503 M381.5 1501V1503 M391.5 1501V1503 M402.5 1501V1503 M412.5 1501V1503 M434.5 1501V1503 M444.5 1501V1503 M455.5 1501V1503 M465.5 1501V1503 M487.5 1501V1503 M497.5 1501V1503 M508.5 1501V1503 M518.5 1501V1503 M540.5 1501V1503 M550.5 1501V1503 M561.5 1501V1503 M571.5 1501V1503 M593.5 1501V1503 M603.5 1501V1503 M614.5 1501V1503 M624.5 1501V1503 M646.5 1501V1503 M656.5 1501V1503 M667.5 1501V1503 M678.5 1501V1503 M699.5 1501V1503 M709.5 1501V1503 M720.5 1501V1503 M731.5 1501V1503 M752.5 1501V1503 M762.5 1501V1503 M773.5 1501V1503 M784.5 1501V1503 M805.5 1501V1503 M815.5 1501V1503 M826.5 1501V1503 M837.5 1501V1503 M858.5 1501V1503 M868.5 1501V1503 M879.5 1501V1503 M890.5 1501V1503 M911.5 1501V1503 M921.5 1501V1503 M932.5 1501V1503 M943.5 1501V1503 M964.5 1501V1503 M974.5 1501V1503 M985.5 1501V1503 M996.5 1501V1503 M1017.5 1501V1503 M1028.5 1501V1503 M1038.5 1501V1503 M1049.5 1501V1503 M1070.5 1501V1503 M1081.5 1501V1503 M1091.5 1501V1503 M1102.5 1501V1503 M1123.5 1501V1503 M1134.5 1501V1503 M1144.5 1501V1503" stroke="#e8e8e8" stroke-width="1" fill="none"/>
<path d="M105.5 1498V1503 M158.5 1498V1503 M211.5 1498V1503 M264.5 1498V1503 M317.5 1498V1503 M370.5 1498V1503 M423.5 1498V1503 M476.5 1498V1503 M529.5 1498V1503 M582.5 1498V1503 M635.5 1498V1503 M688.5 1498V1503 M741.5 1498V1503 M794.5 1498V1503 M847.5 1498V1503 M900.5 1498V1503 M953.5 1498V1503 M1006.5 1498V1503 M1059.5 1498V1503 M1112.5 1498V1503" stroke="#000" stroke-width="1" fill="none"/>
<text x="88.07" y="1512.80" font-size="10.5" textLength="37.47" lengthAdjust="spacingAndGlyphs" >20 Oct</text>
<text x="141.10" y="1512.80" font-size="10.5" textLength="37.47" lengthAdjust="spacingAndGlyphs" >27 Oct</text>
<text x="196.46" y="1512.80" font-size="10.5" textLength="32.80" lengthAdjust="spacingAndGlyphs" >3 Nov</text>
<text x="245.90" y="1512.80" font-size="10.5" textLength="39.98" lengthAdjust="spacingAndGlyphs" >10 Nov</text>
<text x="298.93" y="1512.80" font-size="10.5" textLength="39.98" lengthAdjust="spacingAndGlyphs" >17 Nov</text>
<text x="351.96" y="1512.80" font-size="10.5" textLength="39.98" lengthAdjust="spacingAndGlyphs" >24 Nov</text>
<text x="402.89" y="1514.10" font-size="10.5" textLength="44.20" lengthAdjust="spacingAndGlyphs" >1er Déc</text>
<text x="461.71" y="1514.10" font-size="10.5" textLength="32.61" lengthAdjust="spacingAndGlyphs" >8 Déc</text>
<text x="511.15" y="1514.10" font-size="10.5" textLength="39.79" lengthAdjust="spacingAndGlyphs" >15 Déc</text>
<text x="564.18" y="1514.10" font-size="10.5" textLength="39.79" lengthAdjust="spacingAndGlyphs" >22 Déc</text>
<text x="617.21" y="1514.10" font-size="10.5" textLength="39.79" lengthAdjust="spacingAndGlyphs" >30 Déc</text>
<text x="672.71" y="1512.80" font-size="10.5" textLength="34.85" lengthAdjust="spacingAndGlyphs" >7 Janv</text>
<text x="722.15" y="1512.80" font-size="10.5" textLength="42.03" lengthAdjust="spacingAndGlyphs" >14 Janv</text>
<text x="775.18" y="1512.80" font-size="10.5" textLength="42.03" lengthAdjust="spacingAndGlyphs" >21 Janv</text>
<text x="828.21" y="1512.80" font-size="10.5" textLength="42.03" lengthAdjust="spacingAndGlyphs" >28 Janv</text>
<text x="887.12" y="1514.10" font-size="10.5" textLength="30.27" lengthAdjust="spacingAndGlyphs" >4 Fév</text>
<text x="936.56" y="1514.10" font-size="10.5" textLength="37.45" lengthAdjust="spacingAndGlyphs" >11 Fév</text>
<text x="989.59" y="1514.10" font-size="10.5" textLength="37.45" lengthAdjust="spacingAndGlyphs" >18 Fév</text>
<text x="1042.62" y="1514.10" font-size="10.5" textLength="37.45" lengthAdjust="spacingAndGlyphs" >25 Fév</text>
<text x="1095.41" y="1512.80" font-size="10.5" textLength="37.95" lengthAdjust="spacingAndGlyphs" >3 Mars</text>
<text x="504.05" y="1524.70" font-size="10.5" textLength="245.30" lengthAdjust="spacingAndGlyphs" >Date (du 20 Octobre 2015 au 8 Mars 2016)</text>
<text transform="translate(67 1427.1) rotate(-90)" font-size="11.2" textLength="33.8" lengthAdjust="spacingAndGlyphs">MACD</text>
</svg>
</body></html>
